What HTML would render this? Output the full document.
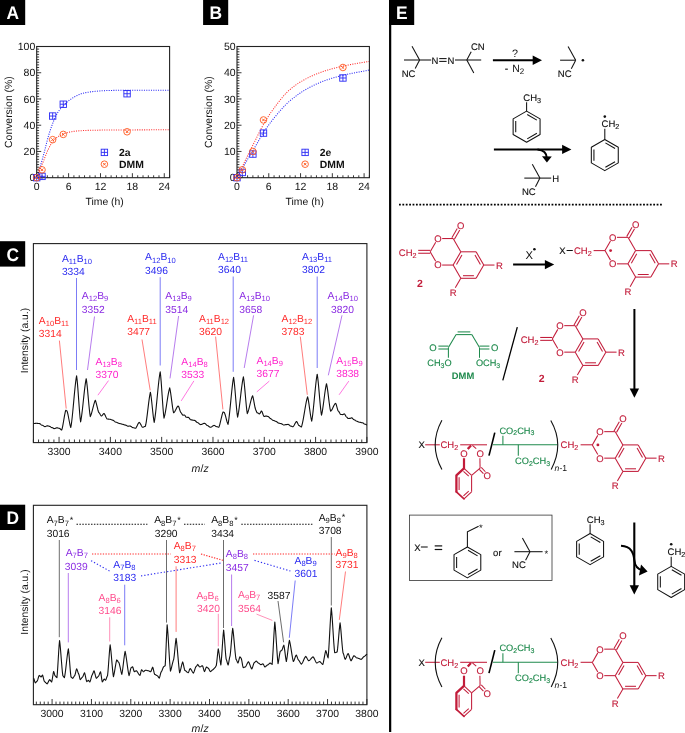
<!DOCTYPE html>
<html><head><meta charset="utf-8"><title>Figure</title>
<style>
html,body{margin:0;padding:0;background:#fff;}
svg{display:block;font-family:"Liberation Sans",sans-serif;text-rendering:geometricPrecision;}
</style></head><body>
<svg width="685" height="733" viewBox="0 0 685 733">
<rect width="685" height="733" fill="#fff"/>
<rect x="0" y="-0.4" width="25.2" height="25.4" fill="#000"/><text transform="translate(12.85 19.3) scale(0.95 1)" font-size="18.3" fill="#fff" text-anchor="middle" font-weight="bold">A</text>
<rect x="203.1" y="-0.4" width="25.1" height="25.4" fill="#000"/><text transform="translate(215.7 19.3) scale(0.95 1)" font-size="18.3" fill="#fff" text-anchor="middle" font-weight="bold">B</text>
<path d="M36.7 177.7 L37.36 175.68 L38.03 173.62 L38.69 171.51 L39.36 169.37 L40.02 167.19 L40.69 164.97 L41.35 162.71 L42.02 160.42 L42.68 158.1 L43.34 155.74 L44.01 153.26 L44.67 150.66 L45.34 147.99 L46 145.29 L46.67 142.63 L47.33 140.05 L48 137.59 L48.66 135.32 L49.33 133.19 L49.99 131.11 L50.65 129.1 L51.32 127.16 L51.98 125.3 L52.65 123.52 L53.31 121.82 L53.98 120.22 L54.64 118.69 L55.31 117.22 L55.97 115.82 L56.63 114.5 L57.3 113.28 L57.96 112.17 L58.63 111.17 L59.29 110.24 L59.96 109.38 L60.62 108.56 L61.29 107.79 L61.95 107.05 L62.62 106.34 L63.28 105.65 L63.94 104.97 L64.61 104.31 L65.27 103.67 L65.94 103.04 L66.6 102.44 L67.27 101.87 L67.93 101.31 L68.6 100.79 L69.26 100.28 L69.92 99.8 L70.59 99.33 L71.25 98.87 L71.92 98.42 L72.58 97.99 L73.25 97.58 L73.91 97.18 L74.58 96.8 L75.24 96.45 L75.91 96.11 L76.57 95.78 L77.23 95.46 L77.9 95.15 L78.56 94.85 L79.23 94.56 L79.89 94.29 L80.56 94.03 L81.22 93.8 L81.89 93.58 L82.55 93.39 L83.22 93.22 L83.88 93.06 L84.54 92.91 L85.21 92.77 L85.87 92.63 L86.54 92.51 L87.2 92.39 L87.87 92.28 L88.53 92.18 L89.2 92.08 L89.86 91.98 L90.52 91.89 L91.19 91.8 L91.85 91.72 L92.52 91.64 L93.18 91.56 L93.85 91.49 L94.51 91.42 L95.18 91.35 L95.84 91.29 L96.5 91.22 L97.17 91.16 L97.83 91.1 L98.5 91.04 L99.16 90.99 L99.83 90.93 L100.49 90.88 L101.16 90.83 L101.82 90.79 L102.49 90.75 L103.15 90.72 L103.81 90.69 L104.48 90.66 L105.14 90.63 L105.81 90.6 L106.47 90.58 L107.14 90.55 L107.8 90.53 L108.47 90.5 L109.13 90.48 L109.79 90.46 L110.46 90.44 L111.12 90.42 L111.79 90.4 L112.45 90.39 L113.12 90.37 L113.78 90.36 L114.45 90.35 L115.11 90.34 L115.78 90.33 L116.44 90.32 L117.1 90.32 L117.77 90.32 L118.43 90.31 L119.1 90.31 L119.76 90.31 L120.43 90.3 L121.09 90.3 L121.76 90.3 L122.42 90.29 L123.08 90.29 L123.75 90.29 L124.41 90.28 L125.08 90.28 L125.74 90.28 L126.41 90.27 L127.07 90.27 L127.74 90.27 L128.4 90.27 L129.07 90.26 L129.73 90.26 L130.39 90.26 L131.06 90.26 L131.72 90.25 L132.39 90.25 L133.05 90.25 L133.72 90.25 L134.38 90.24 L135.05 90.24 L135.71 90.24 L136.38 90.24 L137.04 90.24 L137.7 90.23 L138.37 90.23 L139.03 90.23 L139.7 90.23 L140.36 90.23 L141.03 90.22 L141.69 90.22 L142.36 90.22 L143.02 90.22 L143.68 90.22 L144.35 90.22 L145.01 90.21 L145.68 90.21 L146.34 90.21 L147.01 90.21 L147.67 90.21 L148.34 90.21 L149 90.21 L149.66 90.21 L150.33 90.2 L150.99 90.2 L151.66 90.2 L152.32 90.2 L152.99 90.2 L153.65 90.2 L154.32 90.2 L154.98 90.2 L155.65 90.2 L156.31 90.2 L156.97 90.2 L157.64 90.2 L158.3 90.19 L158.97 90.19 L159.63 90.19 L160.3 90.19 L160.96 90.19 L161.63 90.19 L162.29 90.19 L162.95 90.19 L163.62 90.19 L164.28 90.19 L164.95 90.19 L165.61 90.19 L166.28 90.19 L166.94 90.19 L167.61 90.19 L168.27 90.19 L168.94 90.19 L169.6 90.19" stroke="#2a2af5" stroke-width="1.05" fill="none" stroke-dasharray="1.05 1.3"/>
<path d="M36.7 177.7 L37.36 176.07 L38.03 174.44 L38.69 172.82 L39.36 171.19 L40.02 169.56 L40.69 167.94 L41.35 166.31 L42.02 164.69 L42.68 163.06 L43.34 161.43 L44.01 159.76 L44.67 158.04 L45.34 156.31 L46 154.6 L46.67 152.93 L47.33 151.32 L48 149.82 L48.66 148.44 L49.33 147.15 L49.99 145.91 L50.65 144.73 L51.32 143.63 L51.98 142.63 L52.65 141.75 L53.31 140.97 L53.98 140.23 L54.64 139.54 L55.31 138.9 L55.97 138.3 L56.63 137.75 L57.3 137.24 L57.96 136.77 L58.63 136.35 L59.29 135.95 L59.96 135.58 L60.62 135.24 L61.29 134.91 L61.95 134.61 L62.62 134.32 L63.28 134.05 L63.94 133.79 L64.61 133.54 L65.27 133.29 L65.94 133.06 L66.6 132.84 L67.27 132.63 L67.93 132.45 L68.6 132.28 L69.26 132.13 L69.92 132 L70.59 131.88 L71.25 131.76 L71.92 131.65 L72.58 131.54 L73.25 131.45 L73.91 131.36 L74.58 131.28 L75.24 131.2 L75.91 131.13 L76.57 131.06 L77.23 131 L77.9 130.94 L78.56 130.88 L79.23 130.83 L79.89 130.78 L80.56 130.73 L81.22 130.69 L81.89 130.65 L82.55 130.61 L83.22 130.58 L83.88 130.54 L84.54 130.51 L85.21 130.48 L85.87 130.46 L86.54 130.43 L87.2 130.41 L87.87 130.39 L88.53 130.37 L89.2 130.35 L89.86 130.33 L90.52 130.31 L91.19 130.29 L91.85 130.28 L92.52 130.26 L93.18 130.25 L93.85 130.23 L94.51 130.22 L95.18 130.2 L95.84 130.19 L96.5 130.17 L97.17 130.16 L97.83 130.15 L98.5 130.14 L99.16 130.13 L99.83 130.12 L100.49 130.11 L101.16 130.1 L101.82 130.09 L102.49 130.08 L103.15 130.07 L103.81 130.07 L104.48 130.06 L105.14 130.06 L105.81 130.05 L106.47 130.04 L107.14 130.04 L107.8 130.03 L108.47 130.03 L109.13 130.02 L109.79 130.02 L110.46 130.01 L111.12 130.01 L111.79 130 L112.45 130 L113.12 130 L113.78 129.99 L114.45 129.99 L115.11 129.98 L115.78 129.98 L116.44 129.98 L117.1 129.97 L117.77 129.97 L118.43 129.97 L119.1 129.96 L119.76 129.96 L120.43 129.96 L121.09 129.95 L121.76 129.95 L122.42 129.95 L123.08 129.95 L123.75 129.94 L124.41 129.94 L125.08 129.94 L125.74 129.93 L126.41 129.93 L127.07 129.93 L127.74 129.93 L128.4 129.92 L129.07 129.92 L129.73 129.92 L130.39 129.92 L131.06 129.91 L131.72 129.91 L132.39 129.91 L133.05 129.9 L133.72 129.9 L134.38 129.9 L135.05 129.9 L135.71 129.89 L136.38 129.89 L137.04 129.89 L137.7 129.89 L138.37 129.88 L139.03 129.88 L139.7 129.88 L140.36 129.88 L141.03 129.87 L141.69 129.87 L142.36 129.87 L143.02 129.87 L143.68 129.87 L144.35 129.86 L145.01 129.86 L145.68 129.86 L146.34 129.86 L147.01 129.85 L147.67 129.85 L148.34 129.85 L149 129.85 L149.66 129.85 L150.33 129.84 L150.99 129.84 L151.66 129.84 L152.32 129.84 L152.99 129.84 L153.65 129.84 L154.32 129.83 L154.98 129.83 L155.65 129.83 L156.31 129.83 L156.97 129.83 L157.64 129.83 L158.3 129.83 L158.97 129.82 L159.63 129.82 L160.3 129.82 L160.96 129.82 L161.63 129.82 L162.29 129.82 L162.95 129.82 L163.62 129.82 L164.28 129.82 L164.95 129.82 L165.61 129.81 L166.28 129.81 L166.94 129.81 L167.61 129.81 L168.27 129.81 L168.94 129.81 L169.6 129.81" stroke="#ff3030" stroke-width="1.05" fill="none" stroke-dasharray="1.05 1.3"/>
<rect x="36.7" y="46.5" width="132.9" height="131.2" fill="none" stroke="#222" stroke-width="1.1"/>
<path d="M36.7 177.7v-4.5M42.02 177.7v-2.4M47.33 177.7v-2.4M52.65 177.7v-2.4M57.96 177.7v-2.4M63.28 177.7v-2.4M68.6 177.7v-4.5M73.91 177.7v-2.4M79.23 177.7v-2.4M84.54 177.7v-2.4M89.86 177.7v-2.4M95.18 177.7v-2.4M100.49 177.7v-4.5M105.81 177.7v-2.4M111.12 177.7v-2.4M116.44 177.7v-2.4M121.76 177.7v-2.4M127.07 177.7v-2.4M132.39 177.7v-4.5M137.7 177.7v-2.4M143.02 177.7v-2.4M148.34 177.7v-2.4M153.65 177.7v-2.4M158.97 177.7v-2.4M164.28 177.7v-4.5M169.6 177.7v-2.4M36.7 177.7h4.5M36.7 175.08h2.4M36.7 172.45h2.4M36.7 169.83h2.4M36.7 167.2h2.4M36.7 164.58h2.4M36.7 161.96h2.4M36.7 159.33h2.4M36.7 156.71h2.4M36.7 154.08h2.4M36.7 151.46h4.5M36.7 148.84h2.4M36.7 146.21h2.4M36.7 143.59h2.4M36.7 140.96h2.4M36.7 138.34h2.4M36.7 135.72h2.4M36.7 133.09h2.4M36.7 130.47h2.4M36.7 127.84h2.4M36.7 125.22h4.5M36.7 122.6h2.4M36.7 119.97h2.4M36.7 117.35h2.4M36.7 114.72h2.4M36.7 112.1h2.4M36.7 109.48h2.4M36.7 106.85h2.4M36.7 104.23h2.4M36.7 101.6h2.4M36.7 98.98h4.5M36.7 96.36h2.4M36.7 93.73h2.4M36.7 91.11h2.4M36.7 88.48h2.4M36.7 85.86h2.4M36.7 83.24h2.4M36.7 80.61h2.4M36.7 77.99h2.4M36.7 75.36h2.4M36.7 72.74h4.5M36.7 70.12h2.4M36.7 67.49h2.4M36.7 64.87h2.4M36.7 62.24h2.4M36.7 59.62h2.4M36.7 57h2.4M36.7 54.37h2.4M36.7 51.75h2.4M36.7 49.12h2.4M36.7 46.5h4.5" stroke="#222" stroke-width="0.9" fill="none"/>
<text x="36.7" y="190.2" font-size="10.5" fill="#111" text-anchor="middle">0</text>
<text x="68.6" y="190.2" font-size="10.5" fill="#111" text-anchor="middle">6</text>
<text x="100.49" y="190.2" font-size="10.5" fill="#111" text-anchor="middle">12</text>
<text x="132.39" y="190.2" font-size="10.5" fill="#111" text-anchor="middle">18</text>
<text x="164.28" y="190.2" font-size="10.5" fill="#111" text-anchor="middle">24</text>
<text x="35.3" y="181.4" font-size="10.5" fill="#111" text-anchor="end">0</text>
<text x="35.3" y="155.16" font-size="10.5" fill="#111" text-anchor="end">20</text>
<text x="35.3" y="128.92" font-size="10.5" fill="#111" text-anchor="end">40</text>
<text x="35.3" y="102.68" font-size="10.5" fill="#111" text-anchor="end">60</text>
<text x="35.3" y="76.44" font-size="10.5" fill="#111" text-anchor="end">80</text>
<text x="35.3" y="50.2" font-size="10.5" fill="#111" text-anchor="end">100</text>
<text x="104.65" y="204.7" font-size="10.4" fill="#111" text-anchor="middle">Time (h)</text>
<text transform="translate(12.3 112.1) rotate(-90)" font-size="10.4" fill="#111" text-anchor="middle">Conversion (%)</text>
<g stroke="#2a2af5" stroke-width="0.9" fill="none"><rect x="33.5" y="174.5" width="6.4" height="6.4"/><path d="M36.7 174.5V180.9M33.5 177.7H39.9"/></g>
<g stroke="#2a2af5" stroke-width="0.9" fill="none"><rect x="38.82" y="173.19" width="6.4" height="6.4"/><path d="M42.02 173.19V179.59M38.82 176.39H45.22"/></g>
<g stroke="#2a2af5" stroke-width="0.9" fill="none"><rect x="49.45" y="112.84" width="6.4" height="6.4"/><path d="M52.65 112.84V119.24M49.45 116.04H55.85"/></g>
<g stroke="#2a2af5" stroke-width="0.9" fill="none"><rect x="60.08" y="101.03" width="6.4" height="6.4"/><path d="M63.28 101.03V107.43M60.08 104.23H66.48"/></g>
<g stroke="#2a2af5" stroke-width="0.9" fill="none"><rect x="123.87" y="90.53" width="6.4" height="6.4"/><path d="M127.07 90.53V96.93M123.87 93.73H130.27"/></g>
<g stroke="#ff5a1f" stroke-width="0.9" fill="none"><circle cx="36.7" cy="177.7" r="3.3"/><path d="M35.4 176.4L38 179M35.4 179L38 176.4" stroke-width="1"/></g>
<g stroke="#ff5a1f" stroke-width="0.9" fill="none"><circle cx="42.02" cy="169.83" r="3.3"/><path d="M40.72 168.53L43.32 171.13M40.72 171.13L43.32 168.53" stroke-width="1"/></g>
<g stroke="#ff5a1f" stroke-width="0.9" fill="none"><circle cx="52.65" cy="139.65" r="3.3"/><path d="M51.35 138.35L53.95 140.95M51.35 140.95L53.95 138.35" stroke-width="1"/></g>
<g stroke="#ff5a1f" stroke-width="0.9" fill="none"><circle cx="63.28" cy="134.4" r="3.3"/><path d="M61.98 133.1L64.58 135.7M61.98 135.7L64.58 133.1" stroke-width="1"/></g>
<g stroke="#ff5a1f" stroke-width="0.9" fill="none"><circle cx="127.07" cy="131.78" r="3.3"/><path d="M125.77 130.48L128.37 133.08M125.77 133.08L128.37 130.48" stroke-width="1"/></g>
<g stroke="#2a2af5" stroke-width="0.9" fill="none"><rect x="101.2" y="149.2" width="6.4" height="6.4"/><path d="M104.4 149.2V155.6M101.2 152.4H107.6"/></g>
<g stroke="#ff5a1f" stroke-width="0.9" fill="none"><circle cx="104.4" cy="164.2" r="3.3"/><path d="M103.1 162.9L105.7 165.5M103.1 165.5L105.7 162.9" stroke-width="1"/></g>
<text x="119.1" y="155.9" font-size="10.4" fill="#111" font-weight="bold">2a</text>
<text x="119.1" y="167.7" font-size="10.4" fill="#111" font-weight="bold">DMM</text>
<path d="M237 177.7 L237.66 176.55 L238.32 175.4 L238.99 174.26 L239.65 173.11 L240.31 171.96 L240.97 170.81 L241.63 169.66 L242.3 168.52 L242.96 167.37 L243.62 166.21 L244.28 165.06 L244.94 163.9 L245.61 162.75 L246.27 161.6 L246.93 160.46 L247.59 159.33 L248.25 158.21 L248.92 157.1 L249.58 156 L250.24 154.9 L250.9 153.8 L251.56 152.71 L252.23 151.62 L252.89 150.53 L253.55 149.43 L254.21 148.33 L254.87 147.22 L255.54 146.1 L256.2 144.96 L256.86 143.81 L257.52 142.65 L258.18 141.49 L258.85 140.33 L259.51 139.17 L260.17 138.02 L260.83 136.88 L261.49 135.76 L262.16 134.67 L262.82 133.6 L263.48 132.57 L264.14 131.56 L264.8 130.56 L265.47 129.57 L266.13 128.6 L266.79 127.63 L267.45 126.69 L268.11 125.76 L268.78 124.84 L269.44 123.93 L270.1 123.04 L270.76 122.17 L271.42 121.31 L272.09 120.47 L272.75 119.64 L273.41 118.82 L274.07 118 L274.73 117.19 L275.4 116.38 L276.06 115.58 L276.72 114.78 L277.38 113.99 L278.04 113.2 L278.71 112.42 L279.37 111.65 L280.03 110.89 L280.69 110.14 L281.35 109.39 L282.02 108.66 L282.68 107.93 L283.34 107.22 L284 106.52 L284.66 105.83 L285.33 105.16 L285.99 104.49 L286.65 103.84 L287.31 103.21 L287.97 102.59 L288.64 101.98 L289.3 101.39 L289.96 100.82 L290.62 100.26 L291.28 99.7 L291.95 99.16 L292.61 98.62 L293.27 98.09 L293.93 97.57 L294.59 97.05 L295.26 96.55 L295.92 96.05 L296.58 95.56 L297.24 95.07 L297.9 94.6 L298.57 94.13 L299.23 93.67 L299.89 93.22 L300.55 92.77 L301.21 92.33 L301.88 91.9 L302.54 91.48 L303.2 91.06 L303.86 90.65 L304.52 90.25 L305.19 89.86 L305.85 89.47 L306.51 89.09 L307.17 88.72 L307.83 88.35 L308.5 87.99 L309.16 87.64 L309.82 87.29 L310.48 86.94 L311.14 86.6 L311.81 86.26 L312.47 85.93 L313.13 85.61 L313.79 85.29 L314.45 84.97 L315.12 84.66 L315.78 84.35 L316.44 84.05 L317.1 83.75 L317.76 83.46 L318.43 83.17 L319.09 82.89 L319.75 82.61 L320.41 82.34 L321.07 82.07 L321.74 81.81 L322.4 81.55 L323.06 81.3 L323.72 81.05 L324.38 80.8 L325.05 80.56 L325.71 80.33 L326.37 80.1 L327.03 79.87 L327.69 79.64 L328.36 79.42 L329.02 79.2 L329.68 78.99 L330.34 78.77 L331 78.57 L331.67 78.36 L332.33 78.16 L332.99 77.96 L333.65 77.76 L334.31 77.57 L334.98 77.37 L335.64 77.19 L336.3 77 L336.96 76.82 L337.62 76.64 L338.29 76.46 L338.95 76.28 L339.61 76.11 L340.27 75.94 L340.93 75.77 L341.6 75.61 L342.26 75.45 L342.92 75.29 L343.58 75.13 L344.24 74.98 L344.91 74.82 L345.57 74.67 L346.23 74.53 L346.89 74.38 L347.55 74.24 L348.22 74.1 L348.88 73.96 L349.54 73.82 L350.2 73.68 L350.86 73.55 L351.53 73.42 L352.19 73.28 L352.85 73.15 L353.51 73.02 L354.17 72.9 L354.84 72.77 L355.5 72.64 L356.16 72.52 L356.82 72.39 L357.48 72.27 L358.15 72.15 L358.81 72.02 L359.47 71.9 L360.13 71.78 L360.79 71.65 L361.46 71.53 L362.12 71.41 L362.78 71.28 L363.44 71.16 L364.1 71.04 L364.77 70.91 L365.43 70.78 L366.09 70.66 L366.75 70.53 L367.41 70.4 L368.08 70.27 L368.74 70.14 L369.4 70.01" stroke="#2a2af5" stroke-width="1.05" fill="none" stroke-dasharray="1.05 1.3"/>
<path d="M237 177.7 L237.66 176.32 L238.32 174.94 L238.99 173.57 L239.65 172.19 L240.31 170.81 L240.97 169.43 L241.63 168.06 L242.3 166.68 L242.96 165.3 L243.62 163.91 L244.28 162.52 L244.94 161.14 L245.61 159.75 L246.27 158.38 L246.93 157.01 L247.59 155.66 L248.25 154.32 L248.92 152.99 L249.58 151.66 L250.24 150.35 L250.9 149.03 L251.56 147.73 L252.23 146.42 L252.89 145.12 L253.55 143.82 L254.21 142.52 L254.87 141.22 L255.54 139.92 L256.2 138.6 L256.86 137.26 L257.52 135.93 L258.18 134.59 L258.85 133.26 L259.51 131.93 L260.17 130.62 L260.83 129.33 L261.49 128.06 L262.16 126.82 L262.82 125.61 L263.48 124.43 L264.14 123.29 L264.8 122.15 L265.47 121.03 L266.13 119.93 L266.79 118.84 L267.45 117.77 L268.11 116.72 L268.78 115.69 L269.44 114.67 L270.1 113.68 L270.76 112.7 L271.42 111.75 L272.09 110.81 L272.75 109.9 L273.41 108.99 L274.07 108.09 L274.73 107.19 L275.4 106.29 L276.06 105.4 L276.72 104.52 L277.38 103.64 L278.04 102.77 L278.71 101.91 L279.37 101.06 L280.03 100.22 L280.69 99.39 L281.35 98.58 L282.02 97.78 L282.68 96.99 L283.34 96.22 L284 95.46 L284.66 94.73 L285.33 94.01 L285.99 93.3 L286.65 92.62 L287.31 91.96 L287.97 91.32 L288.64 90.7 L289.3 90.1 L289.96 89.53 L290.62 88.98 L291.28 88.44 L291.95 87.91 L292.61 87.39 L293.27 86.88 L293.93 86.38 L294.59 85.89 L295.26 85.41 L295.92 84.94 L296.58 84.48 L297.24 84.02 L297.9 83.58 L298.57 83.15 L299.23 82.72 L299.89 82.3 L300.55 81.89 L301.21 81.49 L301.88 81.1 L302.54 80.71 L303.2 80.33 L303.86 79.96 L304.52 79.6 L305.19 79.24 L305.85 78.89 L306.51 78.54 L307.17 78.2 L307.83 77.87 L308.5 77.54 L309.16 77.22 L309.82 76.9 L310.48 76.58 L311.14 76.28 L311.81 75.97 L312.47 75.67 L313.13 75.38 L313.79 75.09 L314.45 74.81 L315.12 74.53 L315.78 74.25 L316.44 73.98 L317.1 73.72 L317.76 73.45 L318.43 73.2 L319.09 72.94 L319.75 72.7 L320.41 72.45 L321.07 72.21 L321.74 71.98 L322.4 71.75 L323.06 71.52 L323.72 71.29 L324.38 71.08 L325.05 70.86 L325.71 70.65 L326.37 70.44 L327.03 70.23 L327.69 70.03 L328.36 69.83 L329.02 69.63 L329.68 69.44 L330.34 69.25 L331 69.06 L331.67 68.88 L332.33 68.69 L332.99 68.51 L333.65 68.34 L334.31 68.16 L334.98 67.99 L335.64 67.82 L336.3 67.65 L336.96 67.49 L337.62 67.33 L338.29 67.17 L338.95 67.01 L339.61 66.85 L340.27 66.7 L340.93 66.55 L341.6 66.4 L342.26 66.26 L342.92 66.11 L343.58 65.97 L344.24 65.83 L344.91 65.69 L345.57 65.55 L346.23 65.42 L346.89 65.28 L347.55 65.15 L348.22 65.02 L348.88 64.89 L349.54 64.76 L350.2 64.63 L350.86 64.51 L351.53 64.38 L352.19 64.26 L352.85 64.14 L353.51 64.02 L354.17 63.9 L354.84 63.78 L355.5 63.66 L356.16 63.55 L356.82 63.43 L357.48 63.32 L358.15 63.2 L358.81 63.09 L359.47 62.98 L360.13 62.87 L360.79 62.76 L361.46 62.65 L362.12 62.54 L362.78 62.43 L363.44 62.32 L364.1 62.22 L364.77 62.11 L365.43 62 L366.09 61.9 L366.75 61.79 L367.41 61.69 L368.08 61.58 L368.74 61.48 L369.4 61.38" stroke="#ff3030" stroke-width="1.05" fill="none" stroke-dasharray="1.05 1.3"/>
<rect x="237" y="46.5" width="132.4" height="131.2" fill="none" stroke="#222" stroke-width="1.1"/>
<path d="M237 177.7v-4.5M242.3 177.7v-2.4M247.59 177.7v-2.4M252.89 177.7v-2.4M258.18 177.7v-2.4M263.48 177.7v-2.4M268.78 177.7v-4.5M274.07 177.7v-2.4M279.37 177.7v-2.4M284.66 177.7v-2.4M289.96 177.7v-2.4M295.26 177.7v-2.4M300.55 177.7v-4.5M305.85 177.7v-2.4M311.14 177.7v-2.4M316.44 177.7v-2.4M321.74 177.7v-2.4M327.03 177.7v-2.4M332.33 177.7v-4.5M337.62 177.7v-2.4M342.92 177.7v-2.4M348.22 177.7v-2.4M353.51 177.7v-2.4M358.81 177.7v-2.4M364.1 177.7v-4.5M369.4 177.7v-2.4M237 177.7h4.5M237 175.08h2.4M237 172.45h2.4M237 169.83h2.4M237 167.2h2.4M237 164.58h2.4M237 161.96h2.4M237 159.33h2.4M237 156.71h2.4M237 154.08h2.4M237 151.46h4.5M237 148.84h2.4M237 146.21h2.4M237 143.59h2.4M237 140.96h2.4M237 138.34h2.4M237 135.72h2.4M237 133.09h2.4M237 130.47h2.4M237 127.84h2.4M237 125.22h4.5M237 122.6h2.4M237 119.97h2.4M237 117.35h2.4M237 114.72h2.4M237 112.1h2.4M237 109.48h2.4M237 106.85h2.4M237 104.23h2.4M237 101.6h2.4M237 98.98h4.5M237 96.36h2.4M237 93.73h2.4M237 91.11h2.4M237 88.48h2.4M237 85.86h2.4M237 83.24h2.4M237 80.61h2.4M237 77.99h2.4M237 75.36h2.4M237 72.74h4.5M237 70.12h2.4M237 67.49h2.4M237 64.87h2.4M237 62.24h2.4M237 59.62h2.4M237 57h2.4M237 54.37h2.4M237 51.75h2.4M237 49.12h2.4M237 46.5h4.5" stroke="#222" stroke-width="0.9" fill="none"/>
<text x="237" y="190.2" font-size="10.5" fill="#111" text-anchor="middle">0</text>
<text x="268.78" y="190.2" font-size="10.5" fill="#111" text-anchor="middle">6</text>
<text x="300.55" y="190.2" font-size="10.5" fill="#111" text-anchor="middle">12</text>
<text x="332.33" y="190.2" font-size="10.5" fill="#111" text-anchor="middle">18</text>
<text x="364.1" y="190.2" font-size="10.5" fill="#111" text-anchor="middle">24</text>
<text x="235.6" y="181.4" font-size="10.5" fill="#111" text-anchor="end">0</text>
<text x="235.6" y="155.16" font-size="10.5" fill="#111" text-anchor="end">10</text>
<text x="235.6" y="128.92" font-size="10.5" fill="#111" text-anchor="end">20</text>
<text x="235.6" y="102.68" font-size="10.5" fill="#111" text-anchor="end">30</text>
<text x="235.6" y="76.44" font-size="10.5" fill="#111" text-anchor="end">40</text>
<text x="235.6" y="50.2" font-size="10.5" fill="#111" text-anchor="end">50</text>
<text x="304.7" y="204.7" font-size="10.4" fill="#111" text-anchor="middle">Time (h)</text>
<text transform="translate(212 112.1) rotate(-90)" font-size="10.4" fill="#111" text-anchor="middle">Conversion (%)</text>
<g stroke="#2a2af5" stroke-width="0.9" fill="none"><rect x="233.8" y="174.5" width="6.4" height="6.4"/><path d="M237 174.5V180.9M233.8 177.7H240.2"/></g>
<g stroke="#2a2af5" stroke-width="0.9" fill="none"><rect x="239.1" y="169.25" width="6.4" height="6.4"/><path d="M242.3 169.25V175.65M239.1 172.45H245.5"/></g>
<g stroke="#2a2af5" stroke-width="0.9" fill="none"><rect x="249.69" y="150.88" width="6.4" height="6.4"/><path d="M252.89 150.88V157.28M249.69 154.08H256.09"/></g>
<g stroke="#2a2af5" stroke-width="0.9" fill="none"><rect x="260.28" y="129.89" width="6.4" height="6.4"/><path d="M263.48 129.89V136.29M260.28 133.09H266.68"/></g>
<g stroke="#2a2af5" stroke-width="0.9" fill="none"><rect x="339.72" y="74.79" width="6.4" height="6.4"/><path d="M342.92 74.79V81.19M339.72 77.99H346.12"/></g>
<g stroke="#ff5a1f" stroke-width="0.9" fill="none"><circle cx="237" cy="177.7" r="3.3"/><path d="M235.7 176.4L238.3 179M235.7 179L238.3 176.4" stroke-width="1"/></g>
<g stroke="#ff5a1f" stroke-width="0.9" fill="none"><circle cx="242.3" cy="169.83" r="3.3"/><path d="M241 168.53L243.6 171.13M241 171.13L243.6 168.53" stroke-width="1"/></g>
<g stroke="#ff5a1f" stroke-width="0.9" fill="none"><circle cx="252.89" cy="151.46" r="3.3"/><path d="M251.59 150.16L254.19 152.76M251.59 152.76L254.19 150.16" stroke-width="1"/></g>
<g stroke="#ff5a1f" stroke-width="0.9" fill="none"><circle cx="263.48" cy="119.97" r="3.3"/><path d="M262.18 118.67L264.78 121.27M262.18 121.27L264.78 118.67" stroke-width="1"/></g>
<g stroke="#ff5a1f" stroke-width="0.9" fill="none"><circle cx="342.92" cy="67.49" r="3.3"/><path d="M341.62 66.19L344.22 68.79M341.62 68.79L344.22 66.19" stroke-width="1"/></g>
<g stroke="#2a2af5" stroke-width="0.9" fill="none"><rect x="301.9" y="149.2" width="6.4" height="6.4"/><path d="M305.1 149.2V155.6M301.9 152.4H308.3"/></g>
<g stroke="#ff5a1f" stroke-width="0.9" fill="none"><circle cx="305.1" cy="164.2" r="3.3"/><path d="M303.8 162.9L306.4 165.5M303.8 165.5L306.4 162.9" stroke-width="1"/></g>
<text x="319.8" y="155.9" font-size="10.4" fill="#111" font-weight="bold">2e</text>
<text x="319.8" y="167.7" font-size="10.4" fill="#111" font-weight="bold">DMM</text>
<rect x="0" y="241.2" width="25.2" height="25.4" fill="#000"/><text transform="translate(12.85 260.9) scale(0.95 1)" font-size="18.3" fill="#fff" text-anchor="middle" font-weight="bold">C</text>
<rect x="33.4" y="243.6" width="333.5" height="199" fill="none" stroke="#222" stroke-width="1.1"/>
<path d="M33.4 442.6v-3.1M38.53 442.6v-3.1M43.66 442.6v-3.1M48.79 442.6v-3.1M53.92 442.6v-3.1M59.05 442.6v-5.7M64.18 442.6v-3.1M69.32 442.6v-3.1M74.45 442.6v-3.1M79.58 442.6v-3.1M84.71 442.6v-3.1M89.84 442.6v-3.1M94.97 442.6v-3.1M100.1 442.6v-3.1M105.23 442.6v-3.1M110.36 442.6v-5.7M115.49 442.6v-3.1M120.62 442.6v-3.1M125.75 442.6v-3.1M130.88 442.6v-3.1M136.02 442.6v-3.1M141.15 442.6v-3.1M146.28 442.6v-3.1M151.41 442.6v-3.1M156.54 442.6v-3.1M161.67 442.6v-5.7M166.8 442.6v-3.1M171.93 442.6v-3.1M177.06 442.6v-3.1M182.19 442.6v-3.1M187.32 442.6v-3.1M192.45 442.6v-3.1M197.58 442.6v-3.1M202.72 442.6v-3.1M207.85 442.6v-3.1M212.98 442.6v-5.7M218.11 442.6v-3.1M223.24 442.6v-3.1M228.37 442.6v-3.1M233.5 442.6v-3.1M238.63 442.6v-3.1M243.76 442.6v-3.1M248.89 442.6v-3.1M254.02 442.6v-3.1M259.15 442.6v-3.1M264.28 442.6v-5.7M269.42 442.6v-3.1M274.55 442.6v-3.1M279.68 442.6v-3.1M284.81 442.6v-3.1M289.94 442.6v-3.1M295.07 442.6v-3.1M300.2 442.6v-3.1M305.33 442.6v-3.1M310.46 442.6v-3.1M315.59 442.6v-5.7M320.72 442.6v-3.1M325.85 442.6v-3.1M330.98 442.6v-3.1M336.12 442.6v-3.1M341.25 442.6v-3.1M346.38 442.6v-3.1M351.51 442.6v-3.1M356.64 442.6v-3.1M361.77 442.6v-3.1M366.9 442.6v-5.7" stroke="#222" stroke-width="0.9" fill="none"/>
<text x="59.05" y="455" font-size="10.4" fill="#111" text-anchor="middle">3300</text>
<text x="110.36" y="455" font-size="10.4" fill="#111" text-anchor="middle">3400</text>
<text x="161.67" y="455" font-size="10.4" fill="#111" text-anchor="middle">3500</text>
<text x="212.98" y="455" font-size="10.4" fill="#111" text-anchor="middle">3600</text>
<text x="264.28" y="455" font-size="10.4" fill="#111" text-anchor="middle">3700</text>
<text x="315.59" y="455" font-size="10.4" fill="#111" text-anchor="middle">3800</text>
<text x="366.9" y="455" font-size="10.4" fill="#111" text-anchor="middle">3900</text>
<text x="200.15" y="471.6" font-size="10.6" fill="#111" text-anchor="middle"><tspan font-style="italic">m</tspan>/<tspan font-style="italic">z</tspan></text>
<text transform="translate(28 340.5) rotate(-90)" font-size="10.3" fill="#111" text-anchor="middle">Intensity (a.u.)</text>
<path d="M33.6 423.5 L34.08 423.48 L34.57 423.45 L35.05 423.4 L35.53 423.35 L36.02 423.32 L36.5 423.3 L37 423.33 L37.5 423.38 L38 423.45 L38.5 423.52 L39 423.57 L39.5 423.6 L40 423.8 L40.5 424.18 L41 424.62 L41.5 425 L42 425.2 L42.5 425.33 L43 425.58 L43.5 425.9 L44 426.22 L44.5 426.47 L45 426.6 L45.5 426.5 L46 426.31 L46.5 426.09 L47 425.9 L47.5 425.8 L48 425.91 L48.5 426.1 L49 426.29 L49.5 426.4 L50 426.55 L50.5 426.83 L51 427.17 L51.5 427.45 L52 427.6 L52.55 427.78 L53.1 428.1 L53.65 428.43 L54.2 428.6 L54.67 428.53 L55.13 428.38 L55.6 428.2 L56.07 428.02 L56.53 427.87 L57 427.8 L57.5 427.87 L58 428.02 L58.5 428.18 L59 428.33 L59.5 428.4 L60.05 428.7 L60.6 429.25 L61.15 429.8 L61.7 430.1 L62.16 428.58 L62.61 426.54 L63.07 424.13 L63.52 421.5 L63.98 418.8 L64.43 416.17 L64.89 413.76 L65.34 411.72 L65.8 410.2 L66.4 410.6 L67 411 L67.47 412.45 L67.95 414.43 L68.42 416.75 L68.9 419.25 L69.38 421.75 L69.85 424.07 L70.33 426.05 L70.8 427.5 L71.28 424.67 L71.77 421.04 L72.25 416.76 L72.73 411.99 L73.22 406.9 L73.7 401.65 L74.18 396.4 L74.67 391.31 L75.15 386.54 L75.63 382.26 L76.12 378.63 L76.6 375.8 L77.1 379.86 L77.6 385.38 L78.1 391.87 L78.6 398.85 L79.1 405.83 L79.6 412.32 L80.1 417.84 L80.6 421.9 L81.07 419.54 L81.53 416.5 L82 412.92 L82.47 408.94 L82.93 404.69 L83.4 400.3 L83.87 395.91 L84.33 391.66 L84.8 387.68 L85.27 384.1 L85.73 381.06 L86.2 378.7 L86.66 381.6 L87.11 385.48 L87.57 390.07 L88.02 395.08 L88.48 400.22 L88.93 405.23 L89.39 409.82 L89.84 413.7 L90.3 416.6 L90.75 415.61 L91.21 414.33 L91.66 412.82 L92.12 411.14 L92.57 409.36 L93.03 407.54 L93.48 405.76 L93.94 404.08 L94.39 402.57 L94.85 401.29 L95.3 400.3 L95.8 401.56 L96.3 403.31 L96.8 405.34 L97.3 407.46 L97.8 409.49 L98.3 411.24 L98.8 412.5 L99.32 412.93 L99.84 413.77 L100.36 414.73 L100.88 415.57 L101.4 416 L101.92 415.69 L102.44 415.1 L102.96 414.4 L103.48 413.81 L104 413.5 L104.46 413.9 L104.91 414.69 L105.37 415.7 L105.83 416.8 L106.29 417.81 L106.74 418.6 L107.2 419 L107.67 419.03 L108.13 419.08 L108.6 419.15 L109.07 419.22 L109.53 419.27 L110 419.3 L110.5 419.4 L111 419.59 L111.5 419.81 L112 420 L112.5 420.1 L113 420.25 L113.5 420.55 L114 420.94 L114.5 421.36 L115 421.75 L115.5 422.05 L116 422.2 L116.5 422.28 L117 422.44 L117.5 422.66 L118 422.9 L118.5 423.14 L119 423.36 L119.5 423.52 L120 423.6 L120.5 423.67 L121 423.82 L121.5 424 L122 424.18 L122.5 424.33 L123 424.4 L123.5 424.5 L124 424.7 L124.5 424.89 L125 425 L125.5 425.11 L126 425.33 L126.5 425.6 L127 425.87 L127.5 426.09 L128 426.2 L128.5 426.16 L129 426.1 L129.5 426.04 L130 426 L130.5 426.15 L131 426.44 L131.5 426.8 L132 427.16 L132.5 427.45 L133 427.6 L133.5 427.69 L134 427.85 L134.5 428.05 L135 428.21 L135.5 428.3 L135.96 427.95 L136.43 427.27 L136.89 426.36 L137.35 425.35 L137.81 424.34 L138.27 423.43 L138.74 422.75 L139.2 422.4 L139.7 422.76 L140.2 423.46 L140.7 424.36 L141.2 425.34 L141.7 426.24 L142.2 426.94 L142.7 427.3 L143.15 427.21 L143.6 427.03 L144.05 426.8 L144.5 426.57 L144.95 426.39 L145.4 426.3 L145.85 424.24 L146.31 421.55 L146.76 418.38 L147.22 414.87 L147.67 411.15 L148.13 407.35 L148.58 403.63 L149.04 400.12 L149.49 396.95 L149.95 394.26 L150.4 392.2 L150.88 394.86 L151.35 398.48 L151.82 402.73 L152.3 407.3 L152.78 411.87 L153.25 416.12 L153.72 419.74 L154.2 422.4 L154.66 419.88 L155.12 416.67 L155.58 412.9 L156.05 408.7 L156.51 404.18 L156.97 399.48 L157.43 394.72 L157.89 390.02 L158.35 385.5 L158.82 381.3 L159.28 377.53 L159.74 374.32 L160.2 371.8 L160.67 375.88 L161.15 381.42 L161.62 387.94 L162.1 394.95 L162.57 401.96 L163.05 408.48 L163.53 414.02 L164 418.1 L164.47 416.45 L164.95 414.33 L165.43 411.82 L165.9 409.04 L166.38 406.07 L166.85 403 L167.32 399.93 L167.8 396.96 L168.27 394.18 L168.75 391.67 L169.22 389.55 L169.7 387.9 L170.19 390.09 L170.67 393.07 L171.16 396.58 L171.65 400.35 L172.14 404.12 L172.62 407.63 L173.11 410.61 L173.6 412.8 L174.06 412.51 L174.52 411.96 L174.98 411.22 L175.44 410.34 L175.9 409.4 L176.36 408.46 L176.82 407.58 L177.28 406.84 L177.74 406.29 L178.2 406 L178.67 406.61 L179.13 407.81 L179.6 409.3 L180.07 410.79 L180.53 411.99 L181 412.6 L181.45 413.06 L181.9 413.9 L182.35 414.75 L182.8 415.2 L183.37 415.15 L183.93 415.05 L184.5 415 L185.03 415.6 L185.57 416.6 L186.1 417.2 L186.58 417.22 L187.06 417.27 L187.54 417.33 L188.02 417.38 L188.5 417.4 L189.05 417.82 L189.6 418.6 L190.15 419.38 L190.7 419.8 L191.19 419.84 L191.67 419.91 L192.16 420 L192.65 420.1 L193.14 420.2 L193.62 420.29 L194.11 420.36 L194.6 420.4 L195.08 420.6 L195.57 421 L196.05 421.5 L196.53 422 L197.02 422.4 L197.5 422.6 L198 422.79 L198.5 423.15 L199 423.6 L199.5 424.05 L200 424.41 L200.5 424.6 L201 424.52 L201.5 424.37 L202 424.17 L202.5 423.95 L203 423.73 L203.5 423.53 L204 423.38 L204.5 423.3 L205 423.51 L205.5 423.93 L206 424.45 L206.5 424.97 L207 425.39 L207.5 425.6 L207.97 425.76 L208.43 426.07 L208.9 426.45 L209.37 426.83 L209.83 427.14 L210.3 427.3 L210.79 427.19 L211.28 426.97 L211.76 426.68 L212.25 426.35 L212.74 426.02 L213.22 425.73 L213.71 425.51 L214.2 425.4 L214.66 425.55 L215.12 425.83 L215.58 426.17 L216.04 426.45 L216.5 426.6 L216.96 426.69 L217.42 426.85 L217.88 427.05 L218.34 427.21 L218.8 427.3 L219.28 426.12 L219.76 424.54 L220.23 422.68 L220.71 420.65 L221.19 418.55 L221.67 416.52 L222.14 414.66 L222.62 413.08 L223.1 411.9 L223.7 412.2 L224.3 412.5 L224.76 413.55 L225.23 414.97 L225.69 416.65 L226.15 418.45 L226.61 420.25 L227.07 421.93 L227.54 423.35 L228 424.4 L228.47 421.82 L228.93 418.51 L229.4 414.61 L229.87 410.27 L230.33 405.63 L230.8 400.85 L231.27 396.07 L231.73 391.43 L232.2 387.09 L232.67 383.19 L233.13 379.88 L233.6 377.3 L234.1 380.81 L234.6 385.59 L235.1 391.21 L235.6 397.25 L236.1 403.29 L236.6 408.91 L237.1 413.69 L237.6 417.2 L238.08 414.99 L238.57 412.15 L239.05 408.8 L239.53 405.08 L240.02 401.1 L240.5 397 L240.98 392.9 L241.47 388.92 L241.95 385.2 L242.43 381.85 L242.92 379.01 L243.4 376.8 L243.89 380.04 L244.38 384.45 L244.86 389.63 L245.35 395.2 L245.84 400.77 L246.33 405.95 L246.81 410.36 L247.3 413.6 L247.78 412.52 L248.26 411.11 L248.75 409.44 L249.23 407.6 L249.71 405.65 L250.19 403.65 L250.67 401.7 L251.15 399.86 L251.64 398.19 L252.12 396.78 L252.6 395.7 L253.1 397.43 L253.6 399.84 L254.1 402.6 L254.6 405.36 L255.1 407.77 L255.6 409.5 L256.25 411.05 L256.9 412.6 L257.42 412.76 L257.94 413.07 L258.46 413.43 L258.98 413.74 L259.5 413.9 L260 413.39 L260.5 412.45 L261 411.51 L261.5 411 L262.02 411.68 L262.54 412.99 L263.06 414.51 L263.58 415.82 L264.1 416.5 L264.58 416.41 L265.05 416.25 L265.52 416.09 L266 416 L266.52 416.09 L267.05 416.25 L267.58 416.41 L268.1 416.5 L268.64 416.78 L269.18 417.33 L269.72 417.97 L270.26 418.52 L270.8 418.8 L271.3 419 L271.8 419.38 L272.3 419.82 L272.8 420.2 L273.3 420.4 L273.84 420.52 L274.38 420.76 L274.92 421.04 L275.46 421.28 L276 421.4 L276.52 421.61 L277.04 422.01 L277.56 422.49 L278.08 422.89 L278.6 423.1 L279.08 423.16 L279.56 423.28 L280.04 423.42 L280.52 423.54 L281 423.6 L281.47 423.73 L281.93 423.98 L282.4 424.3 L282.87 424.62 L283.33 424.87 L283.8 425 L284.35 424.93 L284.9 424.8 L285.45 424.67 L286 424.6 L286.46 424.58 L286.92 424.53 L287.38 424.47 L287.84 424.42 L288.3 424.4 L288.85 424.68 L289.4 425.2 L289.95 425.72 L290.5 426 L290.98 426.09 L291.46 426.25 L291.94 426.45 L292.42 426.61 L292.9 426.7 L293.36 426.39 L293.82 425.79 L294.29 424.99 L294.75 424.1 L295.21 423.21 L295.68 422.41 L296.14 421.81 L296.6 421.5 L297.08 422.01 L297.56 422.98 L298.04 424.12 L298.52 425.09 L299 425.6 L299.48 425.77 L299.96 426.11 L300.44 426.49 L300.92 426.83 L301.4 427 L301.88 425.49 L302.35 423.58 L302.83 421.33 L303.31 418.82 L303.78 416.13 L304.26 413.32 L304.74 410.48 L305.22 407.67 L305.69 404.98 L306.17 402.47 L306.65 400.22 L307.12 398.31 L307.6 396.8 L308.06 398.66 L308.51 401.15 L308.97 404.09 L309.42 407.3 L309.88 410.6 L310.33 413.81 L310.79 416.75 L311.24 419.24 L311.7 421.1 L312.16 418.54 L312.62 415.24 L313.07 411.35 L313.53 407.03 L313.99 402.41 L314.45 397.65 L314.91 392.89 L315.37 388.27 L315.82 383.95 L316.28 380.06 L316.74 376.76 L317.2 374.2 L317.68 377.34 L318.16 381.54 L318.63 386.5 L319.11 391.92 L319.59 397.48 L320.07 402.9 L320.54 407.86 L321.02 412.06 L321.5 415.2 L321.95 413.29 L322.41 410.81 L322.86 407.89 L323.32 404.64 L323.77 401.2 L324.23 397.7 L324.68 394.26 L325.14 391.01 L325.59 388.09 L326.05 385.61 L326.5 383.7 L326.96 385.8 L327.41 388.62 L327.87 391.95 L328.32 395.58 L328.78 399.32 L329.23 402.95 L329.69 406.28 L330.14 409.1 L330.6 411.2 L331.05 410.91 L331.51 410.37 L331.96 409.64 L332.42 408.76 L332.87 407.8 L333.33 406.8 L333.78 405.84 L334.24 404.96 L334.69 404.23 L335.15 403.69 L335.6 403.4 L336.07 404.12 L336.53 405.54 L337 407.3 L337.47 409.06 L337.93 410.48 L338.4 411.2 L338.88 411.61 L339.36 412.39 L339.84 413.31 L340.32 414.09 L340.8 414.5 L341.25 414.52 L341.7 414.55 L342.15 414.58 L342.6 414.6 L343.2 414.41 L343.8 414.09 L344.4 413.9 L344.9 414.41 L345.4 415.35 L345.9 416.29 L346.4 416.8 L346.97 417.27 L347.53 418.03 L348.1 418.5 L348.58 418.48 L349.05 418.45 L349.52 418.42 L350 418.4 L350.57 418.24 L351.13 417.96 L351.7 417.8 L352.2 418.05 L352.7 418.52 L353.2 419.08 L353.7 419.55 L354.2 419.8 L354.68 419.96 L355.16 420.27 L355.64 420.63 L356.12 420.94 L356.6 421.1 L357.08 421.2 L357.57 421.4 L358.05 421.65 L358.53 421.9 L359.02 422.1 L359.5 422.2 L360 422.26 L360.5 422.36 L361 422.5 L361.5 422.64 L362 422.74 L362.5 422.8 L363 422.97 L363.5 423.31 L364 423.69 L364.5 424.03 L365 424.2 L365.48 424.34 L365.95 424.6 L366.42 424.86 L366.9 425" stroke="#111" stroke-width="1.1" fill="none" stroke-linejoin="round"/>
<text x="61.9" y="261.9" font-size="10.3" fill="#2a2af0">A<tspan font-size="7.6" dy="2.2">11</tspan><tspan dy="-2.2">B</tspan><tspan font-size="7.6" dy="2.2">10</tspan></text><text x="61.9" y="275" font-size="10.3" fill="#2a2af0">3334</text>
<line x1="76.5" y1="278" x2="76.5" y2="370" stroke="#2a2af0" stroke-width="0.62"/>
<text x="81.8" y="299.2" font-size="10.3" fill="#8a2be2">A<tspan font-size="7.6" dy="2.2">12</tspan><tspan dy="-2.2">B</tspan><tspan font-size="7.6" dy="2.2">9</tspan></text><text x="81.8" y="312.8" font-size="10.3" fill="#8a2be2">3352</text>
<line x1="94.5" y1="316.5" x2="87.5" y2="370" stroke="#8a2be2" stroke-width="0.62"/>
<text x="38.8" y="323.5" font-size="10.3" fill="#ff2a2a">A<tspan font-size="7.6" dy="2.2">10</tspan><tspan dy="-2.2">B</tspan><tspan font-size="7.6" dy="2.2">11</tspan></text><text x="38.8" y="337.1" font-size="10.3" fill="#ff2a2a">3314</text>
<line x1="59.4" y1="340.6" x2="66.2" y2="408.6" stroke="#ff2a2a" stroke-width="0.62"/>
<text x="95.5" y="364.5" font-size="10.3" fill="#ff22cc">A<tspan font-size="7.6" dy="2.2">13</tspan><tspan dy="-2.2">B</tspan><tspan font-size="7.6" dy="2.2">8</tspan></text><text x="95.5" y="378.1" font-size="10.3" fill="#ff22cc">3370</text>
<line x1="108.5" y1="380.6" x2="97.9" y2="395.2" stroke="#ff22cc" stroke-width="0.62"/>
<text x="145.1" y="260.4" font-size="10.3" fill="#2a2af0">A<tspan font-size="7.6" dy="2.2">12</tspan><tspan dy="-2.2">B</tspan><tspan font-size="7.6" dy="2.2">10</tspan></text><text x="145.1" y="273.7" font-size="10.3" fill="#2a2af0">3496</text>
<line x1="160.2" y1="277.2" x2="160.2" y2="365.5" stroke="#2a2af0" stroke-width="0.62"/>
<text x="165.3" y="299.2" font-size="10.3" fill="#8a2be2">A<tspan font-size="7.6" dy="2.2">13</tspan><tspan dy="-2.2">B</tspan><tspan font-size="7.6" dy="2.2">9</tspan></text><text x="165.3" y="312.8" font-size="10.3" fill="#8a2be2">3514</text>
<line x1="178.6" y1="316" x2="170" y2="378.4" stroke="#8a2be2" stroke-width="0.62"/>
<text x="127.2" y="322" font-size="10.3" fill="#ff2a2a">A<tspan font-size="7.6" dy="2.2">11</tspan><tspan dy="-2.2">B</tspan><tspan font-size="7.6" dy="2.2">11</tspan></text><text x="127.2" y="335" font-size="10.3" fill="#ff2a2a">3477</text>
<line x1="142" y1="339.5" x2="150.2" y2="390.3" stroke="#ff2a2a" stroke-width="0.62"/>
<text x="181.3" y="364.5" font-size="10.3" fill="#ff22cc">A<tspan font-size="7.6" dy="2.2">14</tspan><tspan dy="-2.2">B</tspan><tspan font-size="7.6" dy="2.2">8</tspan></text><text x="181.3" y="378.1" font-size="10.3" fill="#ff22cc">3533</text>
<line x1="193.9" y1="380.9" x2="181.2" y2="400.9" stroke="#ff22cc" stroke-width="0.62"/>
<text x="218" y="259.8" font-size="10.3" fill="#2a2af0">A<tspan font-size="7.6" dy="2.2">12</tspan><tspan dy="-2.2">B</tspan><tspan font-size="7.6" dy="2.2">11</tspan></text><text x="218" y="273" font-size="10.3" fill="#2a2af0">3640</text>
<line x1="233.2" y1="276.5" x2="233.2" y2="371.8" stroke="#2a2af0" stroke-width="0.62"/>
<text x="239.3" y="299.2" font-size="10.3" fill="#8a2be2">A<tspan font-size="7.6" dy="2.2">13</tspan><tspan dy="-2.2">B</tspan><tspan font-size="7.6" dy="2.2">10</tspan></text><text x="239.3" y="312.5" font-size="10.3" fill="#8a2be2">3658</text>
<line x1="253.6" y1="315.3" x2="244.2" y2="368" stroke="#8a2be2" stroke-width="0.62"/>
<text x="199" y="321.7" font-size="10.3" fill="#ff2a2a">A<tspan font-size="7.6" dy="2.2">11</tspan><tspan dy="-2.2">B</tspan><tspan font-size="7.6" dy="2.2">12</tspan></text><text x="199" y="334.5" font-size="10.3" fill="#ff2a2a">3620</text>
<line x1="215.6" y1="336.6" x2="222.9" y2="409.4" stroke="#ff2a2a" stroke-width="0.62"/>
<text x="256.5" y="363.6" font-size="10.3" fill="#ff22cc">A<tspan font-size="7.6" dy="2.2">14</tspan><tspan dy="-2.2">B</tspan><tspan font-size="7.6" dy="2.2">9</tspan></text><text x="256.5" y="377.2" font-size="10.3" fill="#ff22cc">3677</text>
<line x1="269.3" y1="381.1" x2="256.8" y2="391.9" stroke="#ff22cc" stroke-width="0.62"/>
<text x="302" y="259.8" font-size="10.3" fill="#2a2af0">A<tspan font-size="7.6" dy="2.2">13</tspan><tspan dy="-2.2">B</tspan><tspan font-size="7.6" dy="2.2">11</tspan></text><text x="302" y="273" font-size="10.3" fill="#2a2af0">3802</text>
<line x1="317.2" y1="276.5" x2="317.2" y2="368" stroke="#2a2af0" stroke-width="0.62"/>
<text x="327.4" y="299.2" font-size="10.3" fill="#8a2be2">A<tspan font-size="7.6" dy="2.2">14</tspan><tspan dy="-2.2">B</tspan><tspan font-size="7.6" dy="2.2">10</tspan></text><text x="331" y="312.5" font-size="10.3" fill="#8a2be2">3820</text>
<line x1="342" y1="315.3" x2="328.3" y2="375.3" stroke="#8a2be2" stroke-width="0.62"/>
<text x="281.6" y="321.7" font-size="10.3" fill="#ff2a2a">A<tspan font-size="7.6" dy="2.2">12</tspan><tspan dy="-2.2">B</tspan><tspan font-size="7.6" dy="2.2">12</tspan></text><text x="281.6" y="334.5" font-size="10.3" fill="#ff2a2a">3783</text>
<line x1="300.3" y1="336.6" x2="307.3" y2="394.8" stroke="#ff2a2a" stroke-width="0.62"/>
<text x="336.2" y="363.6" font-size="10.3" fill="#ff22cc">A<tspan font-size="7.6" dy="2.2">15</tspan><tspan dy="-2.2">B</tspan><tspan font-size="7.6" dy="2.2">9</tspan></text><text x="336.2" y="377.2" font-size="10.3" fill="#ff22cc">3838</text>
<line x1="348.8" y1="381.1" x2="339.1" y2="394.8" stroke="#ff22cc" stroke-width="0.62"/>
<rect x="0" y="504.7" width="25.2" height="25.3" fill="#000"/><text transform="translate(12.85 524.4) scale(0.95 1)" font-size="18.3" fill="#fff" text-anchor="middle" font-weight="bold">D</text>
<rect x="33.4" y="505.3" width="333.5" height="199.4" fill="none" stroke="#222" stroke-width="1.1"/>
<path d="M36.35 704.7v-3.1M40.29 704.7v-3.1M44.22 704.7v-3.1M48.16 704.7v-3.1M52.09 704.7v-5.7M56.03 704.7v-3.1M59.96 704.7v-3.1M63.9 704.7v-3.1M67.83 704.7v-3.1M71.77 704.7v-3.1M75.7 704.7v-3.1M79.64 704.7v-3.1M83.57 704.7v-3.1M87.51 704.7v-3.1M91.44 704.7v-5.7M95.38 704.7v-3.1M99.31 704.7v-3.1M103.25 704.7v-3.1M107.18 704.7v-3.1M111.12 704.7v-3.1M115.05 704.7v-3.1M118.99 704.7v-3.1M122.92 704.7v-3.1M126.86 704.7v-3.1M130.79 704.7v-5.7M134.73 704.7v-3.1M138.66 704.7v-3.1M142.6 704.7v-3.1M146.53 704.7v-3.1M150.47 704.7v-3.1M154.4 704.7v-3.1M158.34 704.7v-3.1M162.27 704.7v-3.1M166.21 704.7v-3.1M170.14 704.7v-5.7M174.08 704.7v-3.1M178.02 704.7v-3.1M181.95 704.7v-3.1M185.89 704.7v-3.1M189.82 704.7v-3.1M193.76 704.7v-3.1M197.69 704.7v-3.1M201.63 704.7v-3.1M205.56 704.7v-3.1M209.5 704.7v-5.7M213.43 704.7v-3.1M217.37 704.7v-3.1M221.3 704.7v-3.1M225.24 704.7v-3.1M229.17 704.7v-3.1M233.11 704.7v-3.1M237.04 704.7v-3.1M240.98 704.7v-3.1M244.91 704.7v-3.1M248.85 704.7v-5.7M252.78 704.7v-3.1M256.72 704.7v-3.1M260.65 704.7v-3.1M264.59 704.7v-3.1M268.52 704.7v-3.1M272.46 704.7v-3.1M276.39 704.7v-3.1M280.33 704.7v-3.1M284.26 704.7v-3.1M288.2 704.7v-5.7M292.13 704.7v-3.1M296.07 704.7v-3.1M300 704.7v-3.1M303.94 704.7v-3.1M307.87 704.7v-3.1M311.81 704.7v-3.1M315.74 704.7v-3.1M319.68 704.7v-3.1M323.61 704.7v-3.1M327.55 704.7v-5.7M331.48 704.7v-3.1M335.42 704.7v-3.1M339.35 704.7v-3.1M343.29 704.7v-3.1M347.22 704.7v-3.1M351.16 704.7v-3.1M355.09 704.7v-3.1M359.03 704.7v-3.1M362.96 704.7v-3.1M366.9 704.7v-5.7" stroke="#222" stroke-width="0.9" fill="none"/>
<text x="52.09" y="716.9" font-size="10.4" fill="#111" text-anchor="middle">3000</text>
<text x="91.44" y="716.9" font-size="10.4" fill="#111" text-anchor="middle">3100</text>
<text x="130.79" y="716.9" font-size="10.4" fill="#111" text-anchor="middle">3200</text>
<text x="170.14" y="716.9" font-size="10.4" fill="#111" text-anchor="middle">3300</text>
<text x="209.5" y="716.9" font-size="10.4" fill="#111" text-anchor="middle">3400</text>
<text x="248.85" y="716.9" font-size="10.4" fill="#111" text-anchor="middle">3500</text>
<text x="288.2" y="716.9" font-size="10.4" fill="#111" text-anchor="middle">3600</text>
<text x="327.55" y="716.9" font-size="10.4" fill="#111" text-anchor="middle">3700</text>
<text x="366.9" y="716.9" font-size="10.4" fill="#111" text-anchor="middle">3800</text>
<text x="200.15" y="732.3" font-size="10.6" fill="#111" text-anchor="middle"><tspan font-style="italic">m</tspan>/<tspan font-style="italic">z</tspan></text>
<text transform="translate(28 602) rotate(-90)" font-size="10.3" fill="#111" text-anchor="middle">Intensity (a.u.)</text>
<path d="M33.68 678.32 L34.2 679.65 L34.73 681.59 L35.26 682.92 L35.75 682.54 L36.24 681.94 L36.73 681.33 L37.23 680.95 L37.72 679.88 L38.21 678.19 L38.7 676.5 L39.2 675.43 L39.69 675.74 L40.18 676.22 L40.68 676.7 L41.17 677.01 L41.61 676.44 L42.04 675.61 L42.48 675.04 L42.97 676.31 L43.47 678.32 L43.96 680.33 L44.45 681.61 L44.89 681.86 L45.33 682.25 L45.77 682.72 L46.2 683.2 L46.64 683.59 L47.08 683.84 L47.52 683.37 L47.96 682.63 L48.39 681.74 L48.83 680.85 L49.27 680.1 L49.71 679.64 L50.2 680.09 L50.69 680.82 L51.19 681.54 L51.68 682 L52.17 679.77 L52.66 676.75 L53.16 673.72 L53.65 671.49 L54.09 672.7 L54.53 674.48 L54.96 675.69 L55.46 676.08 L55.95 676.68 L56.44 677.28 L56.93 677.67 L57.37 672.85 L57.81 666.37 L58.25 659.07 L58.69 651.77 L59.12 645.3 L59.56 640.48 L59.97 643.73 L60.38 647.96 L60.79 652.86 L61.2 658.09 L61.62 663.32 L62.03 668.21 L62.44 672.45 L62.85 675.69 L63.37 676.26 L63.9 677.1 L64.42 677.67 L64.86 675.34 L65.3 672.35 L65.74 668.89 L66.18 665.14 L66.61 661.29 L67.05 657.54 L67.49 654.07 L67.93 651.08 L68.37 648.76 L68.8 652.42 L69.24 657.34 L69.68 662.88 L70.12 668.43 L70.56 673.35 L70.99 677.01 L71.42 677.26 L71.85 677.67 L72.27 678.07 L72.7 678.32 L73.19 677.81 L73.69 677.01 L74.18 676.2 L74.67 675.69 L75.16 674.37 L75.66 672.28 L76.15 670.19 L76.64 668.86 L77.09 669.65 L77.54 670.91 L77.98 672.33 L78.43 673.59 L78.88 674.38 L79.31 675.9 L79.75 678.12 L80.19 679.64 L80.66 679.26 L81.14 678.66 L81.61 677.98 L82.08 677.38 L82.56 677.01 L83.05 676.19 L83.54 674.91 L84.03 673.62 L84.53 672.8 L84.97 674.06 L85.42 676.07 L85.87 678.34 L86.31 680.35 L86.76 681.61 L87.19 681.35 L87.61 680.95 L88.04 680.55 L88.47 680.29 L88.91 680.79 L89.34 681.51 L89.78 682 L90.22 681.15 L90.66 679.8 L91.1 678.19 L91.53 676.58 L91.97 675.23 L92.41 674.38 L92.94 673.32 L93.46 671.76 L93.99 670.7 L94.46 671.79 L94.93 673.53 L95.41 675.49 L95.88 677.24 L96.35 678.32 L96.84 677.94 L97.34 677.34 L97.83 676.73 L98.32 676.35 L98.77 675.7 L99.22 674.64 L99.66 673.46 L100.11 672.41 L100.56 671.75 L100.98 673.93 L101.41 676.88 L101.84 679.82 L102.26 682 L102.76 681.42 L103.25 680.49 L103.74 679.56 L104.23 678.98 L104.67 679.36 L105.11 679.91 L105.55 680.29 L106.04 679.4 L106.53 677.99 L107.03 676.59 L107.52 675.69 L107.96 671.69 L108.4 666.32 L108.83 660.26 L109.27 654.2 L109.71 648.82 L110.15 644.82 L110.56 647.76 L110.97 651.6 L111.38 656.04 L111.79 660.78 L112.2 665.52 L112.61 669.96 L113.02 673.8 L113.43 676.75 L113.84 675.2 L114.25 673.17 L114.66 670.83 L115.07 668.34 L115.48 665.84 L115.9 663.5 L116.31 661.48 L116.72 659.93 L117.16 660.3 L117.6 660.9 L118.05 661.58 L118.49 662.18 L118.93 662.56 L119.35 663.83 L119.76 665.52 L120.17 667.46 L120.59 669.48 L121 671.42 L121.41 673.1 L121.82 674.38 L122.24 672.26 L122.65 669.49 L123.06 666.3 L123.47 662.88 L123.88 659.47 L124.29 656.27 L124.7 653.51 L125.11 651.39 L125.55 653.34 L125.99 655.86 L126.42 658.77 L126.86 661.92 L127.3 665.16 L127.74 668.31 L128.18 671.23 L128.61 673.74 L129.05 675.69 L129.54 674.17 L130.04 671.75 L130.53 669.34 L131.02 667.81 L131.55 667.51 L132.07 667.06 L132.6 666.76 L133.03 667.73 L133.45 669.26 L133.88 670.79 L134.31 671.75 L134.8 671.55 L135.29 671.23 L135.79 670.91 L136.28 670.7 L136.69 671.01 L137.1 671.48 L137.5 672.07 L137.91 672.73 L138.32 673.41 L138.73 674.07 L139.14 674.65 L139.55 675.12 L139.96 675.43 L140.48 673.8 L141.01 671.41 L141.53 669.78 L142.03 670.16 L142.52 670.77 L143.01 671.37 L143.5 671.75 L144 671.45 L144.49 670.96 L144.98 670.48 L145.47 670.18 L145.91 670.23 L146.35 670.33 L146.79 670.44 L147.23 670.55 L147.66 670.64 L148.1 670.7 L148.54 670.82 L148.98 671.01 L149.42 671.23 L149.85 671.45 L150.29 671.64 L150.73 671.75 L151.22 670.86 L151.72 669.45 L152.21 668.05 L152.7 667.15 L153.19 668.55 L153.69 670.77 L154.18 672.98 L154.67 674.38 L155.11 674.53 L155.55 674.76 L155.99 675.04 L156.42 675.31 L156.86 675.55 L157.3 675.69 L157.79 676.15 L158.29 676.88 L158.78 677.6 L159.27 678.06 L159.76 676.84 L160.26 674.91 L160.75 672.97 L161.24 671.75 L161.68 671.17 L162.12 670.23 L162.56 669.12 L162.99 668.02 L163.43 667.08 L163.87 666.5 L164.31 666.31 L164.75 666.03 L165.18 665.84 L165.68 657.1 L166.17 645.28 L166.66 633.45 L167.15 624.72 L167.56 628.99 L167.98 634.57 L168.39 641.02 L168.8 647.91 L169.21 654.79 L169.62 661.24 L170.03 666.82 L170.44 671.1 L170.85 670.01 L171.26 668.58 L171.67 666.94 L172.08 665.18 L172.49 663.43 L172.9 661.78 L173.31 660.36 L173.72 659.27 L174.2 655.87 L174.67 651.27 L175.14 646.25 L175.62 641.65 L176.09 638.25 L176.53 641.43 L176.98 645.59 L177.42 650.4 L177.86 655.53 L178.31 660.66 L178.75 665.46 L179.19 669.62 L179.64 672.8 L180.07 671.63 L180.5 670.07 L180.93 668.28 L181.36 666.42 L181.79 664.63 L182.23 663.07 L182.66 661.9 L183.1 663.11 L183.55 665.07 L184 667.27 L184.44 669.22 L184.89 670.44 L185.3 670.62 L185.71 670.9 L186.12 671.24 L186.53 671.62 L186.94 672 L187.36 672.35 L187.77 672.62 L188.18 672.8 L188.67 671.96 L189.16 670.64 L189.65 669.31 L190.15 668.47 L190.56 668.82 L190.97 669.36 L191.38 670.03 L191.79 670.77 L192.2 671.5 L192.61 672.18 L193.02 672.72 L193.43 673.07 L193.87 672.34 L194.31 671.17 L194.75 669.78 L195.18 668.4 L195.62 667.23 L196.06 666.5 L196.52 666.09 L196.97 665.44 L197.43 664.79 L197.88 664.38 L197.96 664.78 L198.03 665.18 L198.49 665.54 L198.94 666.1 L199.4 666.65 L199.85 667.01 L200.29 666.86 L200.73 666.63 L201.17 666.35 L201.61 666.07 L202.04 665.84 L202.48 665.69 L202.97 666.84 L203.47 668.65 L203.96 670.46 L204.45 671.61 L204.95 670.72 L205.44 669.31 L205.93 667.9 L206.42 667.01 L206.92 667.26 L207.41 667.67 L207.9 668.07 L208.39 668.32 L208.89 668.96 L209.38 669.96 L209.87 670.97 L210.37 671.61 L210.8 671.39 L211.24 671.04 L211.68 670.62 L212.12 670.21 L212.56 669.86 L212.99 669.64 L213.49 669.25 L213.98 668.65 L214.47 668.05 L214.96 667.67 L215.4 667.1 L215.84 666.26 L216.28 665.69 L216.77 662.12 L217.26 657.29 L217.76 652.45 L218.25 648.88 L218.69 650.97 L219.12 653.78 L219.56 656.96 L220 660.13 L220.44 662.94 L220.88 665.04 L221.34 660.49 L221.8 654.38 L222.26 647.5 L222.72 640.61 L223.18 634.5 L223.64 629.96 L224.05 633.74 L224.47 638.82 L224.88 644.54 L225.3 650.27 L225.72 655.34 L226.13 659.12 L226.62 660.27 L227.12 662.08 L227.61 663.89 L228.1 665.04 L228.6 663.26 L229.09 660.44 L229.58 657.62 L230.07 655.84 L230.51 652.26 L230.95 647.46 L231.39 642.04 L231.83 636.63 L232.26 631.83 L232.7 628.25 L233.11 631.1 L233.52 634.81 L233.93 639.1 L234.34 643.69 L234.75 648.27 L235.16 652.56 L235.58 656.28 L235.99 659.12 L236.48 659.89 L236.97 661.1 L237.46 662.3 L237.96 663.07 L238.45 661.84 L238.94 659.91 L239.44 657.98 L239.93 656.76 L240.37 657.25 L240.8 657.97 L241.24 658.47 L241.73 660.25 L242.23 663.07 L242.72 665.88 L243.21 667.67 L243.71 667.54 L244.2 667.34 L244.69 667.14 L245.18 667.01 L245.59 666.61 L246 665.99 L246.42 665.22 L246.83 664.38 L247.24 663.54 L247.65 662.77 L248.06 662.15 L248.47 661.75 L248.88 662.3 L249.29 663.15 L249.7 664.21 L250.11 665.37 L250.52 666.52 L250.93 667.58 L251.34 668.43 L251.75 668.98 L252.19 668.25 L252.63 667.08 L253.07 665.69 L253.5 664.31 L253.94 663.14 L254.38 662.41 L254.87 662.16 L255.37 661.75 L255.86 661.35 L256.35 661.1 L256.84 661.48 L257.34 662.08 L257.83 662.68 L258.32 663.07 L258.76 663.24 L259.2 663.52 L259.64 663.85 L260.07 664.19 L260.51 664.47 L260.95 664.64 L261.44 664.47 L261.94 664.18 L262.43 663.9 L262.92 663.72 L263.41 664.36 L263.91 665.37 L264.4 666.37 L264.89 667.01 L265.33 666.79 L265.77 666.44 L266.21 666.02 L266.64 665.61 L267.08 665.26 L267.52 665.04 L267.96 664.82 L268.4 664.47 L268.83 664.05 L269.27 663.64 L269.71 663.29 L270.15 663.07 L270.64 663.32 L271.13 663.72 L271.63 664.13 L272.12 664.38 L272.57 658.9 L273.02 651.54 L273.47 643.25 L273.92 634.95 L274.37 627.6 L274.82 622.12 L275.22 625.95 L275.62 630.96 L276.02 636.74 L276.42 642.92 L276.82 649.1 L277.23 654.88 L277.63 659.89 L278.03 663.72 L278.47 661.72 L278.91 659 L279.34 656.04 L279.78 653.32 L280.22 651.31 L280.71 651.1 L281.19 650.79 L281.68 650.58 L282.12 649.81 L282.55 648.58 L282.99 647.19 L283.43 645.95 L283.87 645.18 L284.28 647.3 L284.7 650.15 L285.11 653.36 L285.52 656.57 L285.94 659.41 L286.35 661.53 L286.79 659.25 L287.23 656.23 L287.66 652.76 L288.1 649.14 L288.54 645.67 L288.98 642.65 L289.42 640.36 L289.85 642.07 L290.29 644.26 L290.73 646.79 L291.17 649.54 L291.61 652.36 L292.04 655.1 L292.48 657.64 L292.92 659.83 L293.36 661.53 L293.77 660.94 L294.19 660 L294.61 658.86 L295.03 657.64 L295.44 656.5 L295.86 655.56 L296.28 654.96 L296.72 655.69 L297.15 656.86 L297.59 658.18 L298.03 659.35 L298.47 660.07 L298.88 660.44 L299.3 661.03 L299.72 661.74 L300.14 662.49 L300.55 663.21 L300.97 663.79 L301.39 664.16 L301.82 663.72 L302.26 663.06 L302.7 662.23 L303.14 661.29 L303.58 660.29 L304.01 659.3 L304.45 658.35 L304.89 657.53 L305.33 656.86 L305.77 656.42 L306.18 656.82 L306.6 657.44 L307.02 658.21 L307.43 659.02 L307.85 659.78 L308.27 660.41 L308.69 660.8 L309.12 660.58 L309.56 660.24 L310 659.82 L310.44 659.34 L310.88 658.83 L311.31 658.32 L311.75 657.85 L312.19 657.42 L312.63 657.09 L313.07 656.86 L313.47 657.26 L313.88 657.87 L314.28 658.63 L314.69 659.49 L315.09 660.37 L315.5 661.22 L315.9 661.98 L316.31 662.59 L316.72 662.99 L317.13 662.86 L317.55 662.65 L317.97 662.4 L318.38 662.13 L318.8 661.87 L319.22 661.66 L319.64 661.53 L320.04 661.75 L320.44 662.1 L320.84 662.53 L321.24 662.99 L321.64 663.46 L322.04 663.89 L322.45 664.23 L322.85 664.45 L323.26 662.96 L323.68 660.98 L324.1 658.7 L324.52 656.33 L324.93 654.06 L325.35 652.08 L325.77 650.58 L326.23 651.62 L326.7 653.29 L327.17 655.17 L327.64 656.84 L328.1 657.88 L328.5 653.27 L328.91 647.24 L329.31 640.28 L329.71 632.85 L330.11 625.41 L330.51 618.45 L330.91 612.43 L331.31 607.81 L331.73 611.96 L332.15 617.36 L332.57 623.62 L332.99 630.29 L333.41 636.97 L333.83 643.22 L334.25 648.63 L334.67 652.77 L335.09 652.69 L335.5 652.56 L335.91 652.41 L336.33 652.25 L336.74 652.12 L337.15 652.04 L337.57 648.89 L337.99 644.72 L338.4 639.94 L338.82 634.95 L339.24 630.17 L339.66 626 L340.07 622.85 L340.49 626.07 L340.91 630.35 L341.32 635.25 L341.74 640.37 L342.16 645.27 L342.58 649.55 L342.99 652.77 L343.43 653.71 L343.87 655.21 L344.31 656.9 L344.74 658.41 L345.18 659.34 L345.6 658.82 L346.02 657.98 L346.43 656.96 L346.85 655.88 L347.27 654.87 L347.69 654.03 L348.1 653.5 L348.52 654.16 L348.94 655.21 L349.35 656.48 L349.77 657.83 L350.19 659.1 L350.6 660.14 L351.02 660.8 L351.44 660.34 L351.86 659.61 L352.27 658.72 L352.69 657.78 L353.11 656.89 L353.52 656.16 L353.94 655.69 L354.36 655.89 L354.78 656.2 L355.19 656.59 L355.61 656.99 L356.03 657.37 L356.44 657.69 L356.86 657.88 L357.3 657.97 L357.74 658.09 L358.18 658.25 L358.61 658.43 L359.05 658.61 L359.49 658.8 L359.93 658.98 L360.36 659.14 L360.8 659.26 L361.24 659.34 L361.66 659.08 L362.08 658.66 L362.49 658.15 L362.91 657.61 L363.33 657.1 L363.74 656.69 L364.16 656.42 L364.58 656.23 L364.99 655.91 L365.41 655.53 L365.83 655.13 L366.25 654.74 L366.66 654.43 L367.08 654.23" stroke="#111" stroke-width="1.1" fill="none" stroke-linejoin="round"/>
<text x="46.7" y="523.4" font-size="10.3" fill="#111">A<tspan font-size="7.6" dy="2.2">7</tspan><tspan dy="-2.2">B</tspan><tspan font-size="7.6" dy="2.2">7</tspan><tspan dy="-3.0" dx="0.8" font-size="9">*</tspan></text><text x="46.7" y="537" font-size="10.3" fill="#111">3016</text>
<line x1="59.3" y1="540" x2="59.3" y2="637.2" stroke="#111" stroke-width="0.62"/>
<text x="154.2" y="523.4" font-size="10.3" fill="#111">A<tspan font-size="7.6" dy="2.2">8</tspan><tspan dy="-2.2">B</tspan><tspan font-size="7.6" dy="2.2">7</tspan><tspan dy="-3.0" dx="0.8" font-size="9">*</tspan></text><text x="154.7" y="537" font-size="10.3" fill="#111">3290</text>
<line x1="166.5" y1="540" x2="166.5" y2="622.6" stroke="#111" stroke-width="0.62"/>
<text x="211.2" y="523.4" font-size="10.3" fill="#111">A<tspan font-size="7.6" dy="2.2">8</tspan><tspan dy="-2.2">B</tspan><tspan font-size="7.6" dy="2.2">8</tspan><tspan dy="-3.0" dx="0.8" font-size="9">*</tspan></text><text x="211.2" y="537" font-size="10.3" fill="#111">3434</text>
<line x1="223.5" y1="540" x2="223.5" y2="628" stroke="#111" stroke-width="0.62"/>
<text x="318.7" y="521" font-size="10.3" fill="#111">A<tspan font-size="7.6" dy="2.2">9</tspan><tspan dy="-2.2">B</tspan><tspan font-size="7.6" dy="2.2">8</tspan><tspan dy="-3.0" dx="0.8" font-size="9">*</tspan></text><text x="318.7" y="534.2" font-size="10.3" fill="#111">3708</text>
<line x1="331.3" y1="537" x2="331.3" y2="605.5" stroke="#111" stroke-width="0.62"/>
<line x1="76.5" y1="524.2" x2="147.4" y2="524.2" stroke="#111" stroke-width="1.1" stroke-dasharray="1.5 1.4"/>
<line x1="184" y1="524.2" x2="204.8" y2="524.2" stroke="#111" stroke-width="1.1" stroke-dasharray="1.5 1.4"/>
<line x1="241.3" y1="524.2" x2="312.8" y2="524.2" stroke="#111" stroke-width="1.1" stroke-dasharray="1.5 1.4"/>
<text x="65.7" y="556" font-size="10.3" fill="#8a2be2">A<tspan font-size="7.6" dy="2.2">7</tspan><tspan dy="-2.2">B</tspan><tspan font-size="7.6" dy="2.2">7</tspan></text><text x="64.8" y="570" font-size="10.3" fill="#8a2be2">3039</text>
<line x1="68.3" y1="573" x2="68.3" y2="642.4" stroke="#8a2be2" stroke-width="0.62"/>
<text x="225.8" y="556.9" font-size="10.3" fill="#8a2be2">A<tspan font-size="7.6" dy="2.2">8</tspan><tspan dy="-2.2">B</tspan><tspan font-size="7.6" dy="2.2">8</tspan></text><text x="225.8" y="571" font-size="10.3" fill="#8a2be2">3457</text>
<line x1="231.6" y1="574.5" x2="231.6" y2="626" stroke="#8a2be2" stroke-width="0.62"/>
<text x="173.7" y="549" font-size="10.3" fill="#ff2a2a">A<tspan font-size="7.6" dy="2.2">8</tspan><tspan dy="-2.2">B</tspan><tspan font-size="7.6" dy="2.2">7</tspan></text><text x="173.7" y="562.8" font-size="10.3" fill="#ff2a2a">3313</text>
<line x1="176.1" y1="566.3" x2="176.1" y2="631.9" stroke="#ff2a2a" stroke-width="0.62"/>
<text x="335.6" y="555.5" font-size="10.3" fill="#ff2a2a">A<tspan font-size="7.6" dy="2.2">9</tspan><tspan dy="-2.2">B</tspan><tspan font-size="7.6" dy="2.2">8</tspan></text><text x="335.6" y="567.7" font-size="10.3" fill="#ff2a2a">3731</text>
<line x1="345.5" y1="571.5" x2="339.3" y2="619.9" stroke="#ff2a2a" stroke-width="0.62"/>
<line x1="92" y1="554" x2="170.8" y2="554" stroke="#ff2a2a" stroke-width="1.1" stroke-dasharray="1.3 1.4"/>
<line x1="201" y1="554" x2="223.2" y2="560.4" stroke="#ff2a2a" stroke-width="1.1" stroke-dasharray="1.3 1.4"/>
<line x1="253" y1="554" x2="334.7" y2="554" stroke="#ff2a2a" stroke-width="1.1" stroke-dasharray="1.3 1.4"/>
<text x="113.3" y="567.7" font-size="10.3" fill="#2a2af0">A<tspan font-size="7.6" dy="2.2">7</tspan><tspan dy="-2.2">B</tspan><tspan font-size="7.6" dy="2.2">8</tspan></text><text x="113.3" y="581.2" font-size="10.3" fill="#2a2af0">3183</text>
<line x1="124.7" y1="584.7" x2="124.7" y2="645.3" stroke="#2a2af0" stroke-width="0.62"/>
<text x="294.5" y="564.2" font-size="10.3" fill="#2a2af0">A<tspan font-size="7.6" dy="2.2">8</tspan><tspan dy="-2.2">B</tspan><tspan font-size="7.6" dy="2.2">9</tspan></text><text x="294.5" y="577.4" font-size="10.3" fill="#2a2af0">3601</text>
<line x1="295.2" y1="580.5" x2="289.3" y2="637.8" stroke="#2a2af0" stroke-width="0.62"/>
<line x1="91.1" y1="560.7" x2="110.4" y2="571.5" stroke="#2a2af0" stroke-width="1.1" stroke-dasharray="1.3 2.0"/>
<line x1="141" y1="575.9" x2="222.3" y2="562.8" stroke="#2a2af0" stroke-width="1.1" stroke-dasharray="1.3 2.0"/>
<line x1="254.5" y1="560.4" x2="290.4" y2="571" stroke="#2a2af0" stroke-width="1.1" stroke-dasharray="1.3 2.0"/>
<text x="98.6" y="600.7" font-size="10.3" fill="#ff4d8d">A<tspan font-size="7.6" dy="2.2">8</tspan><tspan dy="-2.2">B</tspan><tspan font-size="7.6" dy="2.2">6</tspan></text><text x="98.6" y="613.8" font-size="10.3" fill="#ff4d8d">3146</text>
<line x1="109.7" y1="617.3" x2="109.7" y2="641.5" stroke="#ff4d8d" stroke-width="0.62"/>
<text x="196.4" y="598.6" font-size="10.3" fill="#ff4d8d">A<tspan font-size="7.6" dy="2.2">9</tspan><tspan dy="-2.2">B</tspan><tspan font-size="7.6" dy="2.2">6</tspan></text><text x="197" y="611.8" font-size="10.3" fill="#ff4d8d">3420</text>
<line x1="218.3" y1="613.8" x2="218.3" y2="646.3" stroke="#ff4d8d" stroke-width="0.62"/>
<text x="238.1" y="598.1" font-size="10.3" fill="#ff4d8d">A<tspan font-size="7.6" dy="2.2">9</tspan><tspan dy="-2.2">B</tspan><tspan font-size="7.6" dy="2.2">7</tspan></text><text x="238.1" y="611.5" font-size="10.3" fill="#ff4d8d">3564</text>
<line x1="256.5" y1="614.1" x2="272.3" y2="620.4" stroke="#ff4d8d" stroke-width="0.62"/>
<text x="267.5" y="598.9" font-size="10.3" fill="#111">3587</text>
<line x1="278" y1="601" x2="283.6" y2="642.3" stroke="#111" stroke-width="0.62"/>
<rect x="389.05" y="0" width="2.2" height="732" fill="#000"/>
<rect x="389" y="-0.4" width="25.2" height="25.4" fill="#000"/><text transform="translate(401.7 19.3) scale(0.95 1)" font-size="18.3" fill="#fff" text-anchor="middle" font-weight="bold">E</text>
<line x1="419.6" y1="60" x2="412" y2="46.2" stroke="#111" stroke-width="1.05"/><line x1="419.6" y1="60" x2="404" y2="60" stroke="#111" stroke-width="1.05"/><line x1="419.6" y1="60" x2="415.2" y2="68.6" stroke="#111" stroke-width="1.05"/><text x="415.4" y="76.5" font-size="9.5" fill="#111" text-anchor="end" stroke="#111" stroke-width="0.14">NC</text>
<line x1="419.6" y1="60" x2="431.2" y2="60" stroke="#111" stroke-width="1.05"/>
<text x="431.6" y="63.5" font-size="9.5" fill="#111" stroke="#111" stroke-width="0.14">N</text>
<line x1="439.2" y1="58.6" x2="446.6" y2="58.6" stroke="#111" stroke-width="1.05"/><line x1="439.2" y1="61.4" x2="446.6" y2="61.4" stroke="#111" stroke-width="1.05"/>
<text x="447.4" y="63.5" font-size="9.5" fill="#111" stroke="#111" stroke-width="0.14">N</text>
<line x1="455" y1="60" x2="481.2" y2="60" stroke="#111" stroke-width="1.05"/>
<line x1="466.8" y1="60" x2="473.8" y2="73" stroke="#111" stroke-width="1.05"/>
<line x1="466.8" y1="60" x2="471.2" y2="51.7" stroke="#111" stroke-width="1.05"/>
<text x="471" y="50.2" font-size="9.5" fill="#111" stroke="#111" stroke-width="0.14">CN</text>
<line x1="492.9" y1="60.3" x2="533.7" y2="60.3" stroke="#000" stroke-width="2"/><path d="M542 60.3L532.7 55.6L532.7 65Z" fill="#000"/>
<text x="515.1" y="56.7" font-size="10.8" fill="#111" text-anchor="middle">?</text>
<text x="504.8" y="71.7" font-size="10.4" fill="#111" stroke="#111" stroke-width="0.14">-</text>
<text x="512.2" y="71.7" font-size="10.4" fill="#111">N<tspan font-size="8" dy="2.2">2</tspan></text>
<line x1="575.7" y1="60.2" x2="568.1" y2="46.4" stroke="#111" stroke-width="1.05"/><line x1="575.7" y1="60.2" x2="560.1" y2="60.2" stroke="#111" stroke-width="1.05"/><line x1="575.7" y1="60.2" x2="571.3" y2="68.8" stroke="#111" stroke-width="1.05"/><text x="571.5" y="76.7" font-size="9.5" fill="#111" text-anchor="end" stroke="#111" stroke-width="0.14">NC</text>
<circle cx="582.9" cy="60.2" r="1.3" fill="#111"/>
<path d="M526.6 111.15 L540.07 118.92 L540.07 134.47 L526.6 142.25 L513.13 134.47 L513.13 118.92 Z" stroke="#111" stroke-width="1.05" fill="none" stroke-linejoin="round"/><line x1="527.21" y1="114.5" x2="536.86" y2="120.08" stroke="#111" stroke-width="1.05"/><line x1="536.86" y1="133.32" x2="527.21" y2="138.9" stroke="#111" stroke-width="1.05"/><line x1="515.73" y1="132.28" x2="515.73" y2="121.12" stroke="#111" stroke-width="1.05"/>
<line x1="526.6" y1="111.2" x2="526.6" y2="102.2" stroke="#111" stroke-width="1.05"/>
<text x="523.3" y="100.6" font-size="9.5" fill="#111" stroke="#111" stroke-width="0.14">CH<tspan font-size="7.2" dy="2">3</tspan></text>
<line x1="493.9" y1="149.4" x2="563.1" y2="149.4" stroke="#000" stroke-width="2"/><path d="M571.4 149.4L562.1 144.7L562.1 154.1Z" fill="#000"/>
<path d="M537.5 149.6 C543.5 150.2 546.8 153.2 546.8 158.2" stroke="#000" stroke-width="2" fill="none"/>
<path d="M546.9 162.4L542.0 156.2L551.8 156.6Z" fill="#000"/>
<line x1="539.9" y1="178.1" x2="532.3" y2="164.3" stroke="#111" stroke-width="1.05"/><line x1="539.9" y1="178.1" x2="524.3" y2="178.1" stroke="#111" stroke-width="1.05"/><line x1="539.9" y1="178.1" x2="535.5" y2="186.7" stroke="#111" stroke-width="1.05"/><text x="535.7" y="194.6" font-size="9.5" fill="#111" text-anchor="end" stroke="#111" stroke-width="0.14">NC</text>
<line x1="539.9" y1="178.1" x2="551.2" y2="178.1" stroke="#111" stroke-width="1.05"/>
<text x="552.2" y="181.6" font-size="9.5" fill="#111" stroke="#111" stroke-width="0.14">H</text>
<path d="M604.8 139.55 L618.27 147.32 L618.27 162.88 L604.8 170.65 L591.33 162.88 L591.33 147.32 Z" stroke="#111" stroke-width="1.05" fill="none" stroke-linejoin="round"/><line x1="605.41" y1="142.9" x2="615.06" y2="148.48" stroke="#111" stroke-width="1.05"/><line x1="615.06" y1="161.72" x2="605.41" y2="167.3" stroke="#111" stroke-width="1.05"/><line x1="593.93" y1="160.68" x2="593.93" y2="149.52" stroke="#111" stroke-width="1.05"/>
<line x1="604.8" y1="139.6" x2="604.8" y2="128.8" stroke="#111" stroke-width="1.05"/>
<text x="601.6" y="127.4" font-size="9.5" fill="#111" stroke="#111" stroke-width="0.14">CH<tspan font-size="7.2" dy="2">2</tspan></text>
<circle cx="604.8" cy="116.6" r="1.3" fill="#111"/>
<line x1="399" y1="204.6" x2="662.2" y2="204.6" stroke="#000" stroke-width="1.8" stroke-dasharray="1.8 1.59"/>
<line x1="430.2" y1="251.8" x2="435.7" y2="242.27" stroke="#c21c3a" stroke-width="1.05"/><line x1="442.15" y1="238.55" x2="453.15" y2="238.55" stroke="#c21c3a" stroke-width="1.05"/><line x1="453.15" y1="238.55" x2="460.8" y2="251.8" stroke="#c21c3a" stroke-width="1.05"/><line x1="460.8" y1="251.8" x2="453.15" y2="265.05" stroke="#c21c3a" stroke-width="1.05"/><line x1="453.15" y1="265.05" x2="442.15" y2="265.05" stroke="#c21c3a" stroke-width="1.05"/><line x1="435.7" y1="261.33" x2="430.2" y2="251.8" stroke="#c21c3a" stroke-width="1.05"/><line x1="460.8" y1="251.8" x2="476.1" y2="251.8" stroke="#c21c3a" stroke-width="1.05"/><line x1="476.1" y1="251.8" x2="483.75" y2="265.05" stroke="#c21c3a" stroke-width="1.05"/><line x1="483.75" y1="265.05" x2="476.1" y2="278.3" stroke="#c21c3a" stroke-width="1.05"/><line x1="476.1" y1="278.3" x2="460.8" y2="278.3" stroke="#c21c3a" stroke-width="1.05"/><line x1="460.8" y1="278.3" x2="453.15" y2="265.05" stroke="#c21c3a" stroke-width="1.05"/><line x1="461.95" y1="255.01" x2="456.5" y2="264.44" stroke="#c21c3a" stroke-width="1.05"/><line x1="474.95" y1="255.01" x2="480.4" y2="264.44" stroke="#c21c3a" stroke-width="1.05"/><line x1="473.9" y1="275.7" x2="463" y2="275.7" stroke="#c21c3a" stroke-width="1.05"/><line x1="454.41" y1="239.27" x2="459.76" y2="230.01" stroke="#c21c3a" stroke-width="1.05"/><line x1="451.89" y1="237.82" x2="457.24" y2="228.56" stroke="#c21c3a" stroke-width="1.05"/><text x="437.85" y="241.95" font-size="9.5" fill="#c21c3a" text-anchor="middle" stroke="#c21c3a" stroke-width="0.14">O</text><text x="437.85" y="268.45" font-size="9.5" fill="#c21c3a" text-anchor="middle" stroke="#c21c3a" stroke-width="0.14">O</text><text x="460.8" y="228.7" font-size="9.5" fill="#c21c3a" text-anchor="middle" stroke="#c21c3a" stroke-width="0.14">O</text><line x1="483.75" y1="265.05" x2="494.46" y2="265.05" stroke="#c21c3a" stroke-width="1.05"/><text x="495.96" y="268.65" font-size="9.5" fill="#c21c3a" stroke="#c21c3a" stroke-width="0.14">R</text><line x1="460.8" y1="278.3" x2="455.29" y2="287.84" stroke="#c21c3a" stroke-width="1.05"/><text x="453.09" y="296.14" font-size="9.5" fill="#c21c3a" text-anchor="middle" stroke="#c21c3a" stroke-width="0.14">R</text>
<line x1="418.2" y1="253.25" x2="430.2" y2="253.25" stroke="#c21c3a" stroke-width="1.05"/><line x1="418.2" y1="250.35" x2="430.2" y2="250.35" stroke="#c21c3a" stroke-width="1.05"/>
<text x="398.8" y="256.2" font-size="9.5" fill="#c21c3a" stroke="#c21c3a" stroke-width="0.14">CH<tspan font-size="7.2" dy="2">2</tspan></text>
<text x="416.9" y="286.6" font-size="10.5" fill="#c21c3a" font-weight="bold">2</text>
<line x1="513.1" y1="264.6" x2="545.9" y2="264.6" stroke="#000" stroke-width="2"/><path d="M554.2 264.6L544.9 259.9L544.9 269.3Z" fill="#000"/>
<text x="525.4" y="258.6" font-size="11.2" fill="#111">X</text>
<circle cx="534.4" cy="249.2" r="1.3" fill="#111"/>
<text x="559.3" y="254" font-size="9.5" fill="#111" stroke="#111" stroke-width="0.14">X</text>
<line x1="566.6" y1="250.5" x2="572.8" y2="250.5" stroke="#111" stroke-width="1.05"/>
<text x="573.9" y="254" font-size="9.5" fill="#c21c3a" stroke="#c21c3a" stroke-width="0.14">CH<tspan font-size="7.2" dy="2">2</tspan></text>
<line x1="593.6" y1="250.6" x2="605" y2="250.6" stroke="#c21c3a" stroke-width="1.05"/>
<line x1="605" y1="250.6" x2="610.5" y2="241.07" stroke="#c21c3a" stroke-width="1.05"/><line x1="616.95" y1="237.35" x2="627.95" y2="237.35" stroke="#c21c3a" stroke-width="1.05"/><line x1="627.95" y1="237.35" x2="635.6" y2="250.6" stroke="#c21c3a" stroke-width="1.05"/><line x1="635.6" y1="250.6" x2="627.95" y2="263.85" stroke="#c21c3a" stroke-width="1.05"/><line x1="627.95" y1="263.85" x2="616.95" y2="263.85" stroke="#c21c3a" stroke-width="1.05"/><line x1="610.5" y1="260.13" x2="605" y2="250.6" stroke="#c21c3a" stroke-width="1.05"/><line x1="635.6" y1="250.6" x2="650.9" y2="250.6" stroke="#c21c3a" stroke-width="1.05"/><line x1="650.9" y1="250.6" x2="658.55" y2="263.85" stroke="#c21c3a" stroke-width="1.05"/><line x1="658.55" y1="263.85" x2="650.9" y2="277.1" stroke="#c21c3a" stroke-width="1.05"/><line x1="650.9" y1="277.1" x2="635.6" y2="277.1" stroke="#c21c3a" stroke-width="1.05"/><line x1="635.6" y1="277.1" x2="627.95" y2="263.85" stroke="#c21c3a" stroke-width="1.05"/><line x1="636.75" y1="253.81" x2="631.3" y2="263.24" stroke="#c21c3a" stroke-width="1.05"/><line x1="649.75" y1="253.81" x2="655.2" y2="263.24" stroke="#c21c3a" stroke-width="1.05"/><line x1="648.7" y1="274.5" x2="637.8" y2="274.5" stroke="#c21c3a" stroke-width="1.05"/><line x1="629.21" y1="238.07" x2="634.56" y2="228.81" stroke="#c21c3a" stroke-width="1.05"/><line x1="626.69" y1="236.62" x2="632.04" y2="227.36" stroke="#c21c3a" stroke-width="1.05"/><text x="612.65" y="240.75" font-size="9.5" fill="#c21c3a" text-anchor="middle" stroke="#c21c3a" stroke-width="0.14">O</text><text x="612.65" y="267.25" font-size="9.5" fill="#c21c3a" text-anchor="middle" stroke="#c21c3a" stroke-width="0.14">O</text><text x="635.6" y="227.5" font-size="9.5" fill="#c21c3a" text-anchor="middle" stroke="#c21c3a" stroke-width="0.14">O</text><line x1="658.55" y1="263.85" x2="669.26" y2="263.85" stroke="#c21c3a" stroke-width="1.05"/><text x="670.76" y="267.45" font-size="9.5" fill="#c21c3a" stroke="#c21c3a" stroke-width="0.14">R</text><line x1="635.6" y1="277.1" x2="630.09" y2="286.64" stroke="#c21c3a" stroke-width="1.05"/><text x="627.89" y="294.94" font-size="9.5" fill="#c21c3a" text-anchor="middle" stroke="#c21c3a" stroke-width="0.14">R</text><circle cx="610.6" cy="250.6" r="1.43" fill="#c21c3a"/>
<line x1="456.1" y1="334.6" x2="471.8" y2="334.6" stroke="#1f8a4d" stroke-width="1.05"/><line x1="457.6" y1="331.9" x2="470.3" y2="331.9" stroke="#1f8a4d" stroke-width="1.05"/>
<line x1="456.1" y1="334.6" x2="448.4" y2="347.6" stroke="#1f8a4d" stroke-width="1.05"/><line x1="471.8" y1="334.6" x2="479.5" y2="347.6" stroke="#1f8a4d" stroke-width="1.05"/>
<line x1="448.4" y1="346.1" x2="438.4" y2="346.1" stroke="#1f8a4d" stroke-width="1.05"/><line x1="448.4" y1="349" x2="438.4" y2="349" stroke="#1f8a4d" stroke-width="1.05"/>
<line x1="479.5" y1="346.1" x2="489.4" y2="346.1" stroke="#1f8a4d" stroke-width="1.05"/><line x1="479.5" y1="349" x2="489.4" y2="349" stroke="#1f8a4d" stroke-width="1.05"/>
<line x1="448.4" y1="347.6" x2="448.4" y2="357.8" stroke="#1f8a4d" stroke-width="1.05"/><line x1="479.5" y1="347.6" x2="479.5" y2="357.8" stroke="#1f8a4d" stroke-width="1.05"/>
<text x="433" y="351" font-size="9.5" fill="#1f8a4d" text-anchor="middle" stroke="#1f8a4d" stroke-width="0.14">O</text><text x="494.6" y="351" font-size="9.5" fill="#1f8a4d" text-anchor="middle" stroke="#1f8a4d" stroke-width="0.14">O</text>
<text x="451.6" y="365.6" font-size="9.2" fill="#1f8a4d" text-anchor="end" stroke="#1f8a4d" stroke-width="0.14">CH<tspan font-size="6.97" dy="1.94">3</tspan><tspan dy="-1.94">O</tspan></text>
<text x="475.9" y="365.6" font-size="9.2" fill="#1f8a4d" stroke="#1f8a4d" stroke-width="0.14">OCH<tspan font-size="6.97" dy="1.94">3</tspan></text>
<text x="451.8" y="378.6" font-size="9.4" fill="#1f8a4d" font-weight="bold">DMM</text>
<line x1="517.3" y1="327.2" x2="502.8" y2="380.3" stroke="#000" stroke-width="1.3"/>
<line x1="552.3" y1="338.9" x2="557.8" y2="329.37" stroke="#c21c3a" stroke-width="1.05"/><line x1="564.25" y1="325.65" x2="575.25" y2="325.65" stroke="#c21c3a" stroke-width="1.05"/><line x1="575.25" y1="325.65" x2="582.9" y2="338.9" stroke="#c21c3a" stroke-width="1.05"/><line x1="582.9" y1="338.9" x2="575.25" y2="352.15" stroke="#c21c3a" stroke-width="1.05"/><line x1="575.25" y1="352.15" x2="564.25" y2="352.15" stroke="#c21c3a" stroke-width="1.05"/><line x1="557.8" y1="348.43" x2="552.3" y2="338.9" stroke="#c21c3a" stroke-width="1.05"/><line x1="582.9" y1="338.9" x2="598.2" y2="338.9" stroke="#c21c3a" stroke-width="1.05"/><line x1="598.2" y1="338.9" x2="605.85" y2="352.15" stroke="#c21c3a" stroke-width="1.05"/><line x1="605.85" y1="352.15" x2="598.2" y2="365.4" stroke="#c21c3a" stroke-width="1.05"/><line x1="598.2" y1="365.4" x2="582.9" y2="365.4" stroke="#c21c3a" stroke-width="1.05"/><line x1="582.9" y1="365.4" x2="575.25" y2="352.15" stroke="#c21c3a" stroke-width="1.05"/><line x1="584.05" y1="342.11" x2="578.6" y2="351.54" stroke="#c21c3a" stroke-width="1.05"/><line x1="597.05" y1="342.11" x2="602.5" y2="351.54" stroke="#c21c3a" stroke-width="1.05"/><line x1="596" y1="362.8" x2="585.1" y2="362.8" stroke="#c21c3a" stroke-width="1.05"/><line x1="576.51" y1="326.37" x2="581.86" y2="317.11" stroke="#c21c3a" stroke-width="1.05"/><line x1="573.99" y1="324.92" x2="579.34" y2="315.66" stroke="#c21c3a" stroke-width="1.05"/><text x="559.95" y="329.05" font-size="9.5" fill="#c21c3a" text-anchor="middle" stroke="#c21c3a" stroke-width="0.14">O</text><text x="559.95" y="355.55" font-size="9.5" fill="#c21c3a" text-anchor="middle" stroke="#c21c3a" stroke-width="0.14">O</text><text x="582.9" y="315.8" font-size="9.5" fill="#c21c3a" text-anchor="middle" stroke="#c21c3a" stroke-width="0.14">O</text><line x1="605.85" y1="352.15" x2="616.56" y2="352.15" stroke="#c21c3a" stroke-width="1.05"/><text x="618.06" y="355.75" font-size="9.5" fill="#c21c3a" stroke="#c21c3a" stroke-width="0.14">R</text><line x1="582.9" y1="365.4" x2="577.39" y2="374.94" stroke="#c21c3a" stroke-width="1.05"/><text x="575.19" y="383.24" font-size="9.5" fill="#c21c3a" text-anchor="middle" stroke="#c21c3a" stroke-width="0.14">R</text>
<line x1="540.2" y1="340.35" x2="552.3" y2="340.35" stroke="#c21c3a" stroke-width="1.05"/><line x1="540.2" y1="337.45" x2="552.3" y2="337.45" stroke="#c21c3a" stroke-width="1.05"/>
<text x="520.7" y="343.4" font-size="9.5" fill="#c21c3a" stroke="#c21c3a" stroke-width="0.14">CH<tspan font-size="7.2" dy="2">2</tspan></text>
<text x="538.8" y="381.9" font-size="10.5" fill="#c21c3a" font-weight="bold">2</text>
<line x1="634.4" y1="309" x2="634.4" y2="389.5" stroke="#000" stroke-width="2"/><path d="M634.4 397.8L629.7 388.5L639.1 388.5Z" fill="#000"/>
<text x="418.5" y="448.3" font-size="9.5" fill="#111" stroke="#111" stroke-width="0.14">X</text><line x1="425.2" y1="444.8" x2="439.8" y2="444.8" stroke="#c21c3a" stroke-width="1.05"/><path d="M441.9 420.2Q428.5 444.8 441.9 469.4" stroke="#111" stroke-width="1.1" fill="none"/><text x="440.4" y="448.3" font-size="9.5" fill="#c21c3a" stroke="#c21c3a" stroke-width="0.14">CH<tspan font-size="7.2" dy="2">2</tspan></text><line x1="460.2" y1="444.8" x2="487" y2="444.8" stroke="#c21c3a" stroke-width="1.05"/><path d="M471.3 445L467 448.2L468.6 449.8Z" fill="#c21c3a"/><line x1="471" y1="445.6" x2="468" y2="448.7" stroke="#c21c3a" stroke-width="2.2"/><line x1="472.4" y1="445.3" x2="476.2" y2="448.6" stroke="#c21c3a" stroke-width="1.05"/><line x1="464" y1="458.2" x2="464" y2="468.4" stroke="#c21c3a" stroke-width="2.2"/><line x1="479.9" y1="458.2" x2="480.1" y2="468.2" stroke="#c21c3a" stroke-width="1.05"/><line x1="480.1" y1="468.2" x2="471.6" y2="475.4" stroke="#c21c3a" stroke-width="1.05"/><line x1="464" y1="468.4" x2="471.6" y2="475.4" stroke="#c21c3a" stroke-width="1.05"/><line x1="479.33" y1="469.35" x2="483.42" y2="473.61" stroke="#c21c3a" stroke-width="1.05"/><line x1="481.28" y1="467.48" x2="485.37" y2="471.74" stroke="#c21c3a" stroke-width="1.05"/><path d="M464 468.4 L456.4 475.4 L456.4 491.8" stroke="#c21c3a" stroke-width="2.3" fill="none" stroke-linejoin="round" stroke-linecap="round"/><line x1="456.4" y1="491.8" x2="464" y2="498.8" stroke="#c21c3a" stroke-width="1.7" stroke-linecap="round"/><line x1="464" y1="498.8" x2="471.6" y2="491.8" stroke="#c21c3a" stroke-width="1.05"/><line x1="471.6" y1="491.8" x2="471.6" y2="475.4" stroke="#c21c3a" stroke-width="1.05"/><line x1="459.1" y1="477.2" x2="459.1" y2="490" stroke="#c21c3a" stroke-width="1.05"/><line x1="463.48" y1="471.32" x2="468.73" y2="476.15" stroke="#c21c3a" stroke-width="1.05"/><line x1="468.73" y1="491.05" x2="463.48" y2="495.88" stroke="#c21c3a" stroke-width="1.05"/><text x="464" y="456.6" font-size="9.5" fill="#c21c3a" text-anchor="middle" stroke="#c21c3a" stroke-width="0.14">O</text><text x="480.3" y="456.6" font-size="9.5" fill="#c21c3a" text-anchor="middle" stroke="#c21c3a" stroke-width="0.14">O</text><text x="487.3" y="479.1" font-size="9.5" fill="#c21c3a" text-anchor="middle" stroke="#c21c3a" stroke-width="0.14">O</text><line x1="494.8" y1="432.6" x2="489" y2="455.6" stroke="#000" stroke-width="1.6"/><line x1="493" y1="444.8" x2="557.6" y2="444.8" stroke="#1f8a4d" stroke-width="1.05"/><line x1="502.9" y1="444.8" x2="502.9" y2="435.8" stroke="#1f8a4d" stroke-width="1.05"/><text x="499.4" y="433.5" font-size="9.25" fill="#1f8a4d" stroke="#1f8a4d" stroke-width="0.14">CO<tspan font-size="7.01" dy="1.95">2</tspan><tspan dy="-1.95">CH</tspan><tspan font-size="7.01" dy="1.95">3</tspan></text><line x1="518.3" y1="444.8" x2="518.3" y2="455.8" stroke="#1f8a4d" stroke-width="1.05"/><text x="515" y="463.8" font-size="9.25" fill="#1f8a4d" stroke="#1f8a4d" stroke-width="0.14">CO<tspan font-size="7.01" dy="1.95">2</tspan><tspan dy="-1.95">CH</tspan><tspan font-size="7.01" dy="1.95">3</tspan></text><path d="M550.8 420.6Q564.5 444.8 551.2 469.4" stroke="#111" stroke-width="1.1" fill="none"/><text x="554.6" y="470.8" font-size="8.6" fill="#111"><tspan font-style="italic">n</tspan>-1</text><text x="560.6" y="448.3" font-size="9.5" fill="#c21c3a" stroke="#c21c3a" stroke-width="0.14">CH<tspan font-size="7.2" dy="2">2</tspan></text><line x1="580.6" y1="444.8" x2="592.3" y2="444.8" stroke="#c21c3a" stroke-width="1.05"/><line x1="592.3" y1="444.9" x2="597.8" y2="435.37" stroke="#c21c3a" stroke-width="1.05"/><line x1="604.25" y1="431.65" x2="615.25" y2="431.65" stroke="#c21c3a" stroke-width="1.05"/><line x1="615.25" y1="431.65" x2="622.9" y2="444.9" stroke="#c21c3a" stroke-width="1.05"/><line x1="622.9" y1="444.9" x2="615.25" y2="458.15" stroke="#c21c3a" stroke-width="1.05"/><line x1="615.25" y1="458.15" x2="604.25" y2="458.15" stroke="#c21c3a" stroke-width="1.05"/><line x1="597.8" y1="454.43" x2="592.3" y2="444.9" stroke="#c21c3a" stroke-width="1.05"/><line x1="622.9" y1="444.9" x2="638.2" y2="444.9" stroke="#c21c3a" stroke-width="1.05"/><line x1="638.2" y1="444.9" x2="645.85" y2="458.15" stroke="#c21c3a" stroke-width="1.05"/><line x1="645.85" y1="458.15" x2="638.2" y2="471.4" stroke="#c21c3a" stroke-width="1.05"/><line x1="638.2" y1="471.4" x2="622.9" y2="471.4" stroke="#c21c3a" stroke-width="1.05"/><line x1="622.9" y1="471.4" x2="615.25" y2="458.15" stroke="#c21c3a" stroke-width="1.05"/><line x1="624.05" y1="448.11" x2="618.6" y2="457.54" stroke="#c21c3a" stroke-width="1.05"/><line x1="637.05" y1="448.11" x2="642.5" y2="457.54" stroke="#c21c3a" stroke-width="1.05"/><line x1="636" y1="468.8" x2="625.1" y2="468.8" stroke="#c21c3a" stroke-width="1.05"/><line x1="616.51" y1="432.37" x2="621.86" y2="423.11" stroke="#c21c3a" stroke-width="1.05"/><line x1="613.99" y1="430.92" x2="619.34" y2="421.66" stroke="#c21c3a" stroke-width="1.05"/><text x="599.95" y="435.05" font-size="9.5" fill="#c21c3a" text-anchor="middle" stroke="#c21c3a" stroke-width="0.14">O</text><text x="599.95" y="461.55" font-size="9.5" fill="#c21c3a" text-anchor="middle" stroke="#c21c3a" stroke-width="0.14">O</text><text x="622.9" y="421.8" font-size="9.5" fill="#c21c3a" text-anchor="middle" stroke="#c21c3a" stroke-width="0.14">O</text><line x1="645.85" y1="458.15" x2="656.56" y2="458.15" stroke="#c21c3a" stroke-width="1.05"/><text x="658.06" y="461.75" font-size="9.5" fill="#c21c3a" stroke="#c21c3a" stroke-width="0.14">R</text><line x1="622.9" y1="471.4" x2="617.39" y2="480.94" stroke="#c21c3a" stroke-width="1.05"/><text x="615.19" y="489.24" font-size="9.5" fill="#c21c3a" text-anchor="middle" stroke="#c21c3a" stroke-width="0.14">R</text><circle cx="597.9" cy="444.9" r="1.43" fill="#c21c3a"/>
<rect x="409.5" y="515.1" width="142.5" height="65.3" fill="none" stroke="#333" stroke-width="0.8"/>
<text x="414.2" y="550.5" font-size="9.5" fill="#111" stroke="#111" stroke-width="0.14">X</text>
<line x1="420.9" y1="547" x2="427.7" y2="547" stroke="#111" stroke-width="1.05"/>
<line x1="434.7" y1="545.9" x2="442.2" y2="545.9" stroke="#111" stroke-width="1.2"/><line x1="434.7" y1="549.5" x2="442.2" y2="549.5" stroke="#111" stroke-width="1.2"/>
<path d="M467.4 546.95 L480.78 554.67 L480.78 570.12 L467.4 577.85 L454.02 570.12 L454.02 554.67 Z" stroke="#111" stroke-width="1.05" fill="none" stroke-linejoin="round"/><line x1="468.01" y1="550.3" x2="477.57" y2="555.83" stroke="#111" stroke-width="1.05"/><line x1="477.57" y1="568.97" x2="468.01" y2="574.5" stroke="#111" stroke-width="1.05"/><line x1="456.62" y1="567.92" x2="456.62" y2="556.88" stroke="#111" stroke-width="1.05"/>
<path d="M467.4 547 L467.4 531.9 L478.6 526.2" stroke="#111" stroke-width="1.05" fill="none"/>
<text x="480.8" y="530.6" font-size="9.5" fill="#111" text-anchor="middle">*</text>
<text x="493.1" y="555.7" font-size="9.5" fill="#111" stroke="#111" stroke-width="0.14">or</text>
<line x1="530" y1="551.7" x2="522.4" y2="537.9" stroke="#111" stroke-width="1.05"/><line x1="530" y1="551.7" x2="514.4" y2="551.7" stroke="#111" stroke-width="1.05"/><line x1="530" y1="551.7" x2="525.6" y2="560.3" stroke="#111" stroke-width="1.05"/><text x="525.8" y="568.2" font-size="9.5" fill="#111" text-anchor="end" stroke="#111" stroke-width="0.14">NC</text>
<line x1="530" y1="551.7" x2="542.6" y2="551.7" stroke="#111" stroke-width="1.05"/>
<text x="546.4" y="557.4" font-size="9.5" fill="#111" text-anchor="middle">*</text>
<path d="M590.1 533.55 L603.57 541.33 L603.57 556.88 L590.1 564.65 L576.63 556.88 L576.63 541.33 Z" stroke="#111" stroke-width="1.05" fill="none" stroke-linejoin="round"/><line x1="590.71" y1="536.9" x2="600.36" y2="542.48" stroke="#111" stroke-width="1.05"/><line x1="600.36" y1="555.72" x2="590.71" y2="561.3" stroke="#111" stroke-width="1.05"/><line x1="579.23" y1="554.67" x2="579.23" y2="543.53" stroke="#111" stroke-width="1.05"/>
<line x1="590.1" y1="533.6" x2="590.1" y2="524.2" stroke="#111" stroke-width="1.05"/>
<text x="586.8" y="523" font-size="9.5" fill="#111" stroke="#111" stroke-width="0.14">CH<tspan font-size="7.2" dy="2">3</tspan></text>
<line x1="634.3" y1="522.5" x2="634.3" y2="586.3" stroke="#000" stroke-width="2.1"/><path d="M634.3 594.6L629.6 585.3L639 585.3Z" fill="#000"/>
<path d="M621.0 545.8 C631.5 546.5 633.6 553 634.3 560 C635 566.5 638 569.5 642.5 570.2" stroke="#000" stroke-width="2" fill="none"/>
<path d="M647.6 571.6L639.0 575.6L641.0 564.6Z" fill="#000"/>
<path d="M671.2 566.35 L684.67 574.12 L684.67 589.67 L671.2 597.45 L657.73 589.67 L657.73 574.12 Z" stroke="#111" stroke-width="1.05" fill="none" stroke-linejoin="round"/><line x1="671.81" y1="569.7" x2="681.46" y2="575.28" stroke="#111" stroke-width="1.05"/><line x1="681.46" y1="588.52" x2="671.81" y2="594.1" stroke="#111" stroke-width="1.05"/><line x1="660.33" y1="587.47" x2="660.33" y2="576.33" stroke="#111" stroke-width="1.05"/>
<line x1="671.2" y1="566.4" x2="671.2" y2="556.8" stroke="#111" stroke-width="1.05"/>
<text x="667.6" y="555.3" font-size="9.5" fill="#111" stroke="#111" stroke-width="0.14">CH<tspan font-size="7.2" dy="2">2</tspan></text>
<circle cx="671.2" cy="544.3" r="1.3" fill="#111"/>
<text x="418.5" y="665.8" font-size="9.5" fill="#111" stroke="#111" stroke-width="0.14">X</text><line x1="425.2" y1="662.3" x2="439.8" y2="662.3" stroke="#c21c3a" stroke-width="1.05"/><path d="M441.9 637.7Q428.5 662.3 441.9 686.9" stroke="#111" stroke-width="1.1" fill="none"/><text x="440.4" y="665.8" font-size="9.5" fill="#c21c3a" stroke="#c21c3a" stroke-width="0.14">CH<tspan font-size="7.2" dy="2">2</tspan></text><line x1="460.2" y1="662.3" x2="487" y2="662.3" stroke="#c21c3a" stroke-width="1.05"/><path d="M471.3 662.5L467 665.7L468.6 667.3Z" fill="#c21c3a"/><line x1="471" y1="663.1" x2="468" y2="666.2" stroke="#c21c3a" stroke-width="2.2"/><line x1="472.4" y1="662.8" x2="476.2" y2="666.1" stroke="#c21c3a" stroke-width="1.05"/><line x1="464" y1="675.7" x2="464" y2="685.9" stroke="#c21c3a" stroke-width="2.2"/><line x1="479.9" y1="675.7" x2="480.1" y2="685.7" stroke="#c21c3a" stroke-width="1.05"/><line x1="480.1" y1="685.7" x2="471.6" y2="692.9" stroke="#c21c3a" stroke-width="1.05"/><line x1="464" y1="685.9" x2="471.6" y2="692.9" stroke="#c21c3a" stroke-width="1.05"/><line x1="479.33" y1="686.85" x2="483.42" y2="691.11" stroke="#c21c3a" stroke-width="1.05"/><line x1="481.28" y1="684.98" x2="485.37" y2="689.24" stroke="#c21c3a" stroke-width="1.05"/><path d="M464 685.9 L456.4 692.9 L456.4 709.3" stroke="#c21c3a" stroke-width="2.3" fill="none" stroke-linejoin="round" stroke-linecap="round"/><line x1="456.4" y1="709.3" x2="464" y2="716.3" stroke="#c21c3a" stroke-width="1.7" stroke-linecap="round"/><line x1="464" y1="716.3" x2="471.6" y2="709.3" stroke="#c21c3a" stroke-width="1.05"/><line x1="471.6" y1="709.3" x2="471.6" y2="692.9" stroke="#c21c3a" stroke-width="1.05"/><line x1="459.1" y1="694.7" x2="459.1" y2="707.5" stroke="#c21c3a" stroke-width="1.05"/><line x1="463.48" y1="688.82" x2="468.73" y2="693.65" stroke="#c21c3a" stroke-width="1.05"/><line x1="468.73" y1="708.55" x2="463.48" y2="713.38" stroke="#c21c3a" stroke-width="1.05"/><text x="464" y="674.1" font-size="9.5" fill="#c21c3a" text-anchor="middle" stroke="#c21c3a" stroke-width="0.14">O</text><text x="480.3" y="674.1" font-size="9.5" fill="#c21c3a" text-anchor="middle" stroke="#c21c3a" stroke-width="0.14">O</text><text x="487.3" y="696.6" font-size="9.5" fill="#c21c3a" text-anchor="middle" stroke="#c21c3a" stroke-width="0.14">O</text><line x1="494.8" y1="650.1" x2="489" y2="673.1" stroke="#000" stroke-width="1.6"/><line x1="493" y1="662.3" x2="557.6" y2="662.3" stroke="#1f8a4d" stroke-width="1.05"/><line x1="502.9" y1="662.3" x2="502.9" y2="653.3" stroke="#1f8a4d" stroke-width="1.05"/><text x="499.4" y="651" font-size="9.25" fill="#1f8a4d" stroke="#1f8a4d" stroke-width="0.14">CO<tspan font-size="7.01" dy="1.95">2</tspan><tspan dy="-1.95">CH</tspan><tspan font-size="7.01" dy="1.95">3</tspan></text><line x1="518.3" y1="662.3" x2="518.3" y2="673.3" stroke="#1f8a4d" stroke-width="1.05"/><text x="515" y="681.3" font-size="9.25" fill="#1f8a4d" stroke="#1f8a4d" stroke-width="0.14">CO<tspan font-size="7.01" dy="1.95">2</tspan><tspan dy="-1.95">CH</tspan><tspan font-size="7.01" dy="1.95">3</tspan></text><path d="M550.8 638.1Q564.5 662.3 551.2 686.9" stroke="#111" stroke-width="1.1" fill="none"/><text x="554.6" y="688.3" font-size="8.6" fill="#111"><tspan font-style="italic">n</tspan>-1</text><text x="560.6" y="665.8" font-size="9.5" fill="#c21c3a" stroke="#c21c3a" stroke-width="0.14">CH<tspan font-size="7.2" dy="2">2</tspan></text><line x1="580.6" y1="662.3" x2="592.3" y2="662.3" stroke="#c21c3a" stroke-width="1.05"/><line x1="592.3" y1="662.4" x2="597.8" y2="652.87" stroke="#c21c3a" stroke-width="1.05"/><line x1="604.25" y1="649.15" x2="615.25" y2="649.15" stroke="#c21c3a" stroke-width="1.05"/><line x1="615.25" y1="649.15" x2="622.9" y2="662.4" stroke="#c21c3a" stroke-width="1.05"/><line x1="622.9" y1="662.4" x2="615.25" y2="675.65" stroke="#c21c3a" stroke-width="1.05"/><line x1="615.25" y1="675.65" x2="604.25" y2="675.65" stroke="#c21c3a" stroke-width="1.05"/><line x1="597.8" y1="671.93" x2="592.3" y2="662.4" stroke="#c21c3a" stroke-width="1.05"/><line x1="622.9" y1="662.4" x2="638.2" y2="662.4" stroke="#c21c3a" stroke-width="1.05"/><line x1="638.2" y1="662.4" x2="645.85" y2="675.65" stroke="#c21c3a" stroke-width="1.05"/><line x1="645.85" y1="675.65" x2="638.2" y2="688.9" stroke="#c21c3a" stroke-width="1.05"/><line x1="638.2" y1="688.9" x2="622.9" y2="688.9" stroke="#c21c3a" stroke-width="1.05"/><line x1="622.9" y1="688.9" x2="615.25" y2="675.65" stroke="#c21c3a" stroke-width="1.05"/><line x1="624.05" y1="665.61" x2="618.6" y2="675.04" stroke="#c21c3a" stroke-width="1.05"/><line x1="637.05" y1="665.61" x2="642.5" y2="675.04" stroke="#c21c3a" stroke-width="1.05"/><line x1="636" y1="686.3" x2="625.1" y2="686.3" stroke="#c21c3a" stroke-width="1.05"/><line x1="616.51" y1="649.87" x2="621.86" y2="640.61" stroke="#c21c3a" stroke-width="1.05"/><line x1="613.99" y1="648.42" x2="619.34" y2="639.16" stroke="#c21c3a" stroke-width="1.05"/><text x="599.95" y="652.55" font-size="9.5" fill="#c21c3a" text-anchor="middle" stroke="#c21c3a" stroke-width="0.14">O</text><text x="599.95" y="679.05" font-size="9.5" fill="#c21c3a" text-anchor="middle" stroke="#c21c3a" stroke-width="0.14">O</text><text x="622.9" y="639.3" font-size="9.5" fill="#c21c3a" text-anchor="middle" stroke="#c21c3a" stroke-width="0.14">O</text><line x1="645.85" y1="675.65" x2="656.56" y2="675.65" stroke="#c21c3a" stroke-width="1.05"/><text x="658.06" y="679.25" font-size="9.5" fill="#c21c3a" stroke="#c21c3a" stroke-width="0.14">R</text><line x1="622.9" y1="688.9" x2="617.39" y2="698.44" stroke="#c21c3a" stroke-width="1.05"/><text x="615.19" y="706.74" font-size="9.5" fill="#c21c3a" text-anchor="middle" stroke="#c21c3a" stroke-width="0.14">R</text>
</svg>
</body></html>
